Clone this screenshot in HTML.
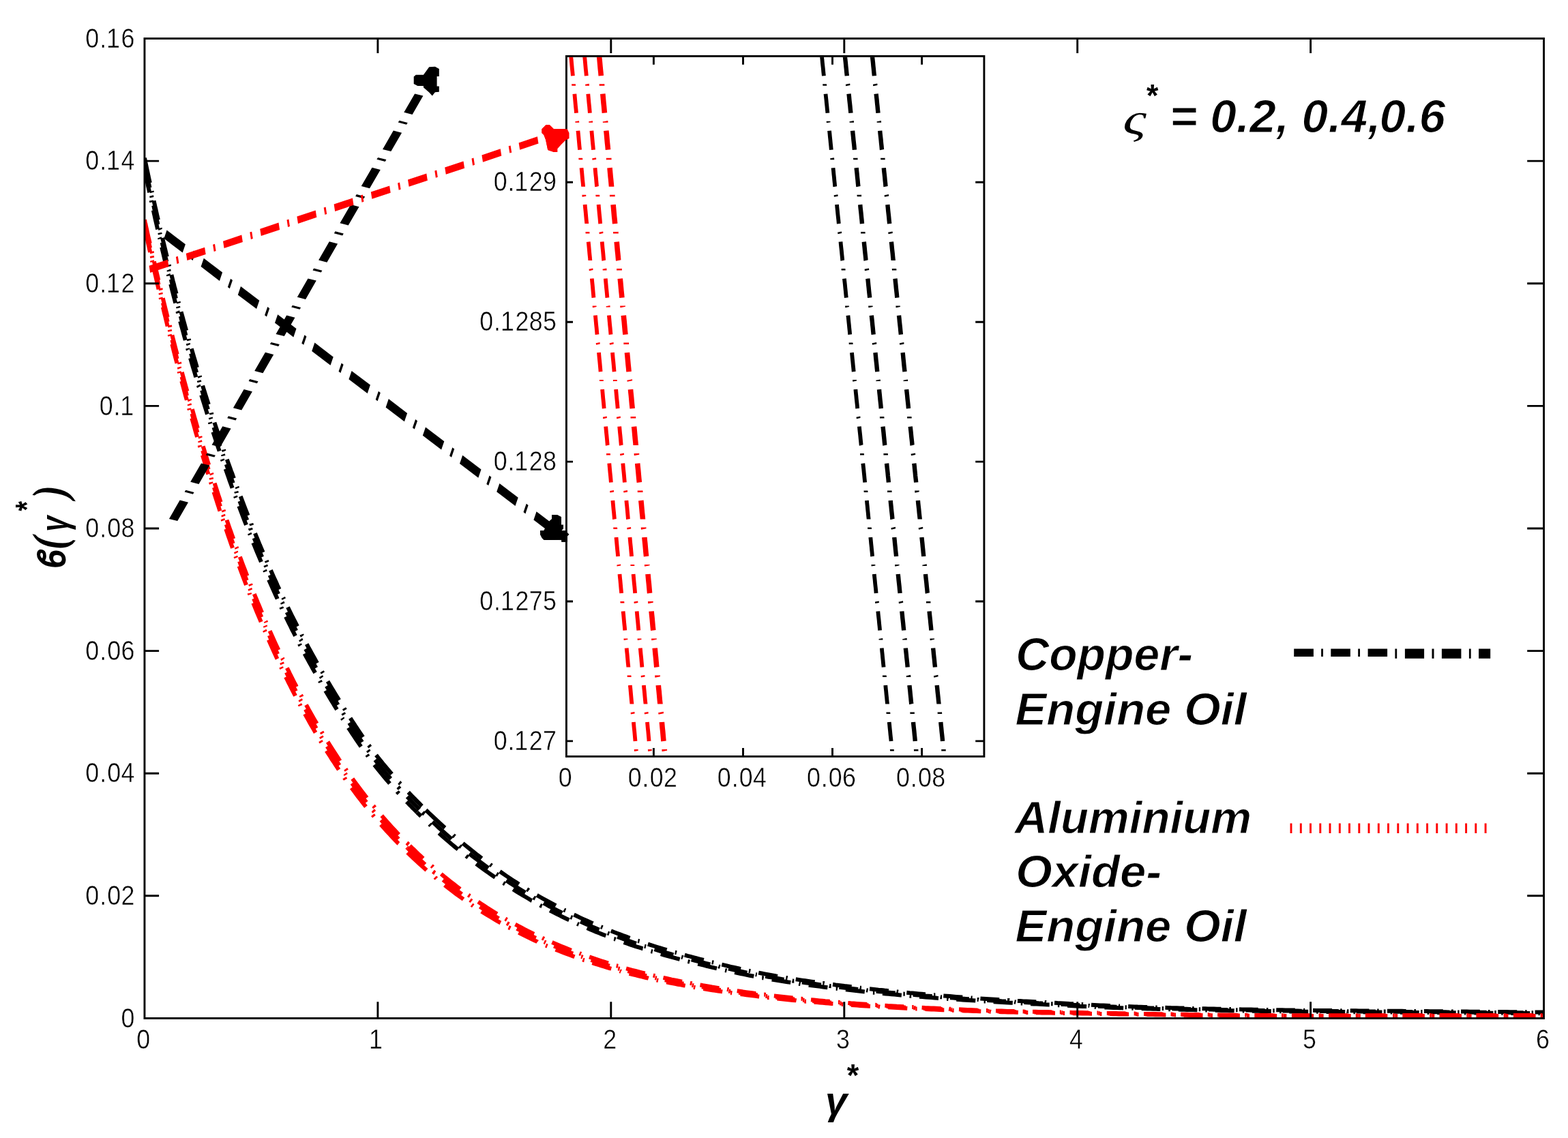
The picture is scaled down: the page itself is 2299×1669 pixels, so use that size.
<!DOCTYPE html>
<html lang="en"><head><meta charset="utf-8"><title>Temperature profile</title>
<style>html,body{margin:0;padding:0;background:#fff;}body{width:2299px;height:1669px;overflow:hidden;}svg{display:block;}</style>
</head><body>
<svg xmlns="http://www.w3.org/2000/svg" width="2299" height="1669" viewBox="0 0 2299 1669">
<rect x="0" y="0" width="2299" height="1669" fill="#fff"/>
<defs><clipPath id="cm"><rect x="211.95" y="56.5" width="2051.6000000000004" height="1436.95"/></clipPath><clipPath id="ci"><rect x="830.4" y="83.85000000000001" width="612.5000000000001" height="1024.1499999999999"/></clipPath></defs>
<path fill="none" stroke="#000" stroke-width="6" clip-path="url(#cm)" d="M213.8 240.3L214.7 244.7L215.7 249.3L216.7 253.9L217.6 258.5L218.7 263.3L219.7 267.7L219.8 268.2M222.4 280.2L222.5 280.6L222.6 281.1L222.7 281.5L222.8 282L222.9 282.4M225.5 294.3L226.5 298.7L227.4 302.8L228.4 307L229.3 311.2L230.3 315.6L231.3 320L231.9 322.4M234.7 334.5L234.8 334.9L234.9 335.4L235 335.9L235.1 336.3L235.3 336.8M238.1 348.8L239.1 353.2L240.2 357.6L241.3 362.1L242.3 366.2L243.3 370.4L244.3 374.6L244.8 376.5M247.7 388.4L247.8 388.9L248 389.4L248.1 389.9L248.2 390.4L248.3 390.8M251.4 403L252.5 407.5L253.6 412L254.8 416.3L255.8 420.5L256.9 424.6L258 428.8L258.5 430.7M261.6 442.5L261.7 442.9L261.8 443.4L262 443.9L262.1 444.4L262.2 444.8M265.5 457.2L266.7 461.6L267.9 465.9L269.1 470.2L270.3 474.6L271.5 479L272.7 483.3L273.1 484.8M276.6 497L276.7 497.5L276.9 498L277 498.5L277.2 499L277.3 499.4M280.7 511.3L282 515.7L283.3 520.1L284.6 524.6L286 529.1L287.3 533.6L288.6 538L288.9 539M292.7 551.3L292.8 551.7L292.9 552.2L293.1 552.6L293.2 553.1L293.4 553.6M297.1 565.6L298.4 569.8L299.7 574L301 578.2L302.4 582.4L303.7 586.6L305.1 590.9L305.8 593.2M309.8 605.4L309.9 605.9L310.1 606.4L310.2 606.8L310.4 607.3L310.5 607.8M314.4 619.6L315.8 623.9L317.2 628.1L318.7 632.4L320.1 636.7L321.5 640.9L323 645.2L323.8 647.6M327.9 659.4L328 659.9L328.2 660.4L328.4 660.9L328.5 661.3L328.7 661.8M332.8 673.7L334.3 677.9L335.9 682.2L337.4 686.4L338.9 690.7L340.5 694.9L342 699.2L342.9 701.5M347.4 713.8L347.6 714.3L347.7 714.7L347.9 715.2L348.1 715.7L348.3 716.2M352.7 727.9L354.5 732.6L356.3 737.3L358.1 742L359.9 746.7L361.7 751.4L363.5 756M368.2 767.7L368.3 768.1L368.5 768.6L368.7 769.1L368.9 769.5L369.1 770L369.3 770.5M374 782.1L375.7 786.3L377.4 790.4L379.2 794.8L381 799.3L382.9 803.7L384.8 808.2L385.6 810.2M390.7 822.1L390.9 822.6L391.1 823.1L391.4 823.6L391.6 824.1L391.8 824.6M396.9 836.3L398.9 840.7L400.8 845.1L402.8 849.5L404.8 853.8L406.7 858.2L408.7 862.5L409.6 864.4M415.2 876.4L415.4 876.8L415.6 877.3L415.9 877.8L416.1 878.3L416.3 878.7M422 890.5L424.3 895.2L426.5 899.8L428.8 904.5L431.2 909.1L433.5 913.7L436 918.6M442.2 930.5L442.4 931L442.7 931.5L442.9 932L443.2 932.5L443.5 932.9M449.7 944.6L452 949L454.4 953.3L456.8 957.7L459.2 962L461.6 966.3L464 970.6L465 972.5M472 984.7L472.3 985.2L472.6 985.7L472.8 986.1L473.1 986.6L473.4 987.1M480.5 999.2L483.2 1003.8L486 1008.5L488.8 1013.1L491.6 1017.7L494.4 1022.3L497.2 1026.9M504.5 1038.8L504.8 1039.3L505.1 1039.8L505.5 1040.3L505.8 1040.8L506.1 1041.3M513.6 1053.1L516.5 1057.6L519.4 1061.9L522.2 1066.3L525.1 1070.6L528 1074.9L530.9 1079.1L532.2 1081M540.7 1092.9L541.1 1093.4L541.4 1093.8L541.7 1094.3L542 1094.7L542.4 1095.2L542.7 1095.6M551.5 1107.3L555.2 1112L558.9 1116.7L562.6 1121.3L566.4 1125.8L570.2 1130.3L574.5 1135.3M585.2 1147.4L585.7 1147.8L586.1 1148.3L586.5 1148.8L587 1149.3L587.4 1149.7M598.7 1161.9L601.8 1165.1L604.9 1168.3L608 1171.4L611.1 1174.6L614.2 1177.7L617.3 1180.9L618.7 1182.2"/>
<path fill="none" stroke="#000" stroke-width="6" clip-path="url(#cm)" d="M211.9 231.7L212.3 233.2L212.6 234.7L212.9 236.2L213.2 237.7L213.5 239.2L213.8 240.7"/>
<path fill="none" stroke="#000" stroke-width="6" clip-path="url(#cm)" d="M624.5 1188L629 1192.4L633.6 1196.7L638.1 1201L642.7 1205.3L647.3 1209.5L651.9 1213.7L652.4 1214.1M664.5 1224.8L664.9 1225.2L665.4 1225.6L665.9 1226L666.3 1226.4L666.8 1226.8M678.6 1236.7L682.9 1240.3L687.1 1243.7L691.5 1247.2L695.8 1250.6L700.1 1254L704.5 1257.3L706.4 1258.8M718.6 1267.8L719.1 1268.2L719.6 1268.5L720.1 1268.9L720.6 1269.3L721 1269.6M732.9 1278L737.9 1281.5L742.8 1284.9L747.4 1288L751.9 1290.9L756.4 1293.8L760.9 1296.7M772.6 1304.1L773.1 1304.4L773.5 1304.6L774 1304.9L774.4 1305.2L774.9 1305.5L775.3 1305.8M787.2 1312.8L791.8 1315.5L796.4 1318.1L801.1 1320.7L805.7 1323.2L810.4 1325.7L815 1328.2M826.8 1334.2L827.3 1334.5L827.7 1334.7L828.2 1335L828.7 1335.2L829.2 1335.4M841.5 1341.5L845.8 1343.5L850.1 1345.6L854.4 1347.6L858.7 1349.5L863.1 1351.5L867.4 1353.4L869.4 1354.3M881.1 1359.2L881.6 1359.4L882 1359.6L882.5 1359.8L883 1360.1L883.5 1360.3M895.8 1365.2L900.2 1367L904.7 1368.7L909.2 1370.4L913.6 1372.1L918.1 1373.7L922.2 1375.2L923.5 1375.7M935.3 1379.8L935.8 1379.9L936.2 1380.1L936.7 1380.2L937.1 1380.4L937.6 1380.5M949.9 1384.6L954.5 1386.1L959.1 1387.5L963.7 1389L968.3 1390.4L972.9 1391.8L977.6 1393.2M989.7 1396.7L990.2 1396.8L990.6 1396.9L991.1 1397.1L991.6 1397.2L992 1397.3M1003.8 1400.6L1008 1401.8L1012.3 1402.9L1016.6 1404.1L1020.8 1405.2L1025.1 1406.3L1029.4 1407.4L1031.8 1408M1043.8 1411.1L1044.3 1411.2L1044.7 1411.3L1045.2 1411.4L1045.7 1411.6L1046.2 1411.7M1058.3 1414.7L1062.6 1415.7L1067 1416.7L1071.4 1417.8L1075.8 1418.8L1080.2 1419.8L1084.6 1420.8L1086.1 1421.1M1097.9 1423.7L1098.4 1423.8L1098.9 1423.9L1099.4 1424L1099.8 1424.1L1100.3 1424.2M1112.2 1426.6L1116.7 1427.5L1121.2 1428.4L1125.7 1429.2L1129.9 1430L1134 1430.7L1138.1 1431.5L1140 1431.8M1152.3 1433.9L1152.8 1434L1153.3 1434L1153.7 1434.1L1154.2 1434.2L1154.7 1434.3M1166.7 1436.2L1171.3 1436.9L1175.9 1437.6L1180.6 1438.3L1185.2 1438.9L1189.9 1439.6L1194.6 1440.3M1206.3 1441.9L1206.8 1441.9L1207.3 1442L1207.7 1442.1L1208.2 1442.1L1208.7 1442.2M1221 1443.8L1225.2 1444.4L1229.5 1444.9L1233.8 1445.4L1238.1 1446L1242.4 1446.5L1246.7 1447L1248.6 1447.2M1260.6 1448.6L1261 1448.7L1261.5 1448.7L1262 1448.8L1262.5 1448.9L1263 1448.9M1275 1450.3L1279.4 1450.7L1283.8 1451.2L1288.1 1451.7L1292.5 1452.1L1296.9 1452.6L1301.3 1453L1302.8 1453.2M1314.5 1454.3L1315 1454.4L1315.5 1454.4L1316 1454.5L1316.5 1454.5L1317 1454.6M1329.3 1455.7L1333.7 1456.2L1338.2 1456.6L1342.7 1457L1347.1 1457.4L1351.6 1457.8L1356.1 1458.2L1357.1 1458.2M1369.1 1459.3L1369.5 1459.3L1370 1459.3L1370.5 1459.4L1370.9 1459.4L1371.4 1459.4M1383.3 1460.4L1388 1460.8L1392.6 1461.1L1397.2 1461.5L1401.9 1461.9L1406.5 1462.2L1411.2 1462.6M1423.3 1463.4L1423.8 1463.5L1424.2 1463.5L1424.7 1463.5L1425.2 1463.6L1425.7 1463.6M1437.4 1464.4L1441.6 1464.7L1445.9 1465L1450.1 1465.3L1454.4 1465.6L1458.6 1465.8L1462.9 1466.1L1465.2 1466.3M1477.1 1467L1477.6 1467L1478.1 1467.1L1478.6 1467.1L1479 1467.1L1479.5 1467.1L1480 1467.2M1491.9 1467.9L1496.2 1468.1L1500.6 1468.4L1504.9 1468.6L1509.2 1468.8L1513.6 1469.1L1517.9 1469.3L1519.3 1469.4M1531.4 1470L1531.9 1470.1L1532.4 1470.1L1532.9 1470.1L1533.4 1470.1L1533.9 1470.2M1546 1470.8L1550.4 1471.1L1554.8 1471.3L1559.2 1471.5L1563.6 1471.7L1568 1472L1572.4 1472.2L1573.9 1472.3M1585.7 1473L1586.2 1473L1586.7 1473L1587.2 1473L1587.7 1473.1L1588.2 1473.1M1600 1473.7L1604.5 1474L1608.9 1474.2L1613.4 1474.4L1617.9 1474.6L1622.4 1474.8L1626.8 1475L1627.8 1475.1M1639.8 1475.5L1640.3 1475.6L1640.8 1475.6L1641.2 1475.6L1641.7 1475.6L1642.1 1475.6M1654.2 1476.1L1658.8 1476.2L1663.5 1476.4L1668.1 1476.6L1672.8 1476.7L1677.5 1476.9L1682.1 1477M1694.3 1477.4L1694.8 1477.4L1695.3 1477.4L1695.7 1477.5L1696.2 1477.5L1696.7 1477.5M1708.4 1477.8L1712.7 1477.9L1716.9 1478.1L1721.2 1478.2L1725.4 1478.3L1729.7 1478.4L1734 1478.5L1736.3 1478.6M1748.2 1478.9L1748.7 1478.9L1749.2 1478.9L1749.7 1478.9L1750.1 1478.9L1750.6 1478.9M1762.5 1479.2L1766.9 1479.3L1771.2 1479.4L1775.5 1479.5L1779.8 1479.6L1784.1 1479.7L1788.5 1479.7L1790.4 1479.8M1802.4 1480L1802.9 1480L1803.4 1480L1803.9 1480.1L1804.4 1480.1L1804.9 1480.1M1817 1480.3L1821.3 1480.4L1825.7 1480.5L1830.1 1480.5L1834.5 1480.6L1838.9 1480.7L1843.2 1480.8L1844.7 1480.8M1856.9 1481L1857.4 1481L1857.9 1481L1858.4 1481L1858.9 1481L1859.4 1481M1871.2 1481.2L1875.6 1481.3L1880 1481.3L1884.5 1481.4L1888.9 1481.4L1893.4 1481.5L1897.8 1481.5L1898.8 1481.5M1911.2 1481.7L1911.7 1481.7L1912.2 1481.7L1912.7 1481.7L1913.2 1481.7M1925.1 1481.8L1929.6 1481.9L1934.1 1481.9L1938.6 1482L1942.9 1482L1947.1 1482L1951.2 1482.1L1953.1 1482.1M1965.2 1482.2L1965.7 1482.2L1966.2 1482.2L1966.6 1482.2L1967.1 1482.2L1967.6 1482.2M1979.7 1482.3L1984 1482.3L1988.2 1482.3L1992.4 1482.4L1996.6 1482.4L2000.9 1482.4L2005.1 1482.5L2007.5 1482.5M2019.3 1482.6L2019.8 1482.6L2020.2 1482.6L2020.7 1482.6L2021.2 1482.6L2021.6 1482.6M2034 1482.7L2038.2 1482.7L2042.5 1482.7L2046.8 1482.8L2051.1 1482.8L2055.4 1482.8L2059.7 1482.9L2061.6 1482.9M2073.5 1483L2074 1483L2074.5 1483L2075 1483L2075.4 1483L2075.9 1483M2087.9 1483.1L2092.2 1483.1L2096.6 1483.2L2100.9 1483.2L2105.2 1483.2L2109.6 1483.3L2113.9 1483.3L2115.8 1483.3M2127.9 1483.4L2128.4 1483.4L2128.9 1483.4L2129.4 1483.4L2129.9 1483.4L2130.4 1483.5M2142 1483.5L2146.4 1483.6L2150.8 1483.6L2155.1 1483.7L2159.5 1483.7L2163.9 1483.7L2168.3 1483.8L2169.8 1483.8M2182 1483.9L2182.5 1483.9L2183 1483.9L2183.5 1483.9L2184 1483.9L2184.5 1483.9M2196.3 1484L2200.7 1484L2205.1 1484.1L2209.5 1484.1L2214 1484.2L2218.4 1484.2L2222.9 1484.2L2224.3 1484.2M2236.2 1484.3L2236.7 1484.3L2237.2 1484.3L2237.7 1484.3L2238.2 1484.4L2238.7 1484.4M2250.6 1484.5L2252.6 1484.5L2254.6 1484.5L2256.6 1484.5L2258.6 1484.5L2260.6 1484.5L2262.6 1484.6L2263.6 1484.6"/>
<path fill="none" stroke="#000" stroke-width="6" clip-path="url(#cm)" d="M213.5 247.2L214.4 251.7L215.4 256.1L216.4 260.9L217.3 265.4L218.4 270.3L219.4 274.8L219.5 275.2M222 286.9L222.1 287.3L222.2 287.8L222.3 288.2L222.4 288.7L222.5 289.1L222.6 289.6M225.2 301.4L226.1 305.5L227 309.6L228 313.7L228.9 318L229.9 322.3L230.9 326.7L231.5 329.2M234.3 341.4L234.4 341.9L234.5 342.3L234.6 342.8L234.7 343.3L234.8 343.7M237.6 355.7L238.7 360.1L239.7 364.6L240.7 368.8L241.7 372.9L242.7 377.1L243.7 381.3L244.3 383.7M247.2 395.6L247.4 396.1L247.5 396.6L247.6 397L247.7 397.5L247.8 398M250.8 409.8L251.9 414.2L253 418.7L254.1 422.8L255.1 426.9L256.2 431.1L257.3 435.3L257.9 437.7M261 449.5L261.1 449.9L261.2 450.4L261.3 450.9L261.5 451.4L261.6 451.8M264.8 463.8L265.9 468.1L267.1 472.5L268.3 476.8L269.5 481.2L270.7 485.6L271.9 490L272.4 491.9M275.8 503.7L275.9 504.2L276 504.7L276.2 505.2L276.3 505.6L276.5 506.1M280 518.5L281.3 522.9L282.6 527.4L283.9 531.9L285.2 536.3L286.5 540.8L287.9 545.3L288.2 546.3M291.7 557.9L291.8 558.3L291.9 558.8L292.1 559.3L292.2 559.7L292.4 560.2L292.5 560.6M296.1 572.3L297.5 576.9L299 581.6L300.4 586.3L301.9 591L303.4 595.7L304.9 600.4M308.7 612.2L308.8 612.6L309 613.1L309.1 613.6L309.3 614L309.5 614.5M313.5 626.8L314.9 631.1L316.3 635.4L317.7 639.7L319.1 643.9L320.6 648.2L322 652.5L322.7 654.4M326.7 666.3L326.9 666.8L327 667.2L327.2 667.7L327.4 668.2L327.5 668.7M331.8 681L333.3 685.3L334.9 689.5L336.4 693.8L337.9 698.1L339.4 702.3L341 706.6L341.7 708.5M346.2 720.8L346.3 721.2L346.5 721.7L346.7 722.2L346.9 722.6L347 723.1M351.4 734.9L353.2 739.6L355 744.3L356.8 749L358.6 753.7L360.4 758.4L362.3 763M366.9 774.7L367 775.2L367.2 775.6L367.4 776.1L367.6 776.6L367.8 777L368 777.5M372.6 789.1L374.3 793.3L376 797.5L377.8 801.6L379.6 806L381.5 810.5L383.3 815L384.2 817M389.2 828.9L389.4 829.4L389.7 829.9L389.9 830.4L390.1 830.9L390.3 831.4M395.6 843.6L397.6 848L399.5 852.4L401.5 856.8L403.4 861.2L405.4 865.5L407.4 869.8L408.1 871.3M413.6 883.2L413.9 883.7L414.1 884.2L414.3 884.6L414.5 885.1L414.7 885.6M420.6 897.8L422.7 902L424.7 906.2L426.8 910.4L428.8 914.5L430.9 918.7L433.2 923.2L434.2 925.2M440.6 937.6L440.9 938L441.1 938.5L441.4 939L441.6 939.5L441.9 940M448.1 951.7L450.5 956.1L452.8 960.4L455.2 964.7L457.6 969L460 973.3L462.3 977.6L463.4 979.5M470.4 991.7L470.7 992.2L470.9 992.6L471.2 993.1L471.5 993.6L471.8 994M478.8 1006.1L481.6 1010.8L484.3 1015.4L487.1 1020L489.9 1024.5L492.7 1029.1L495.5 1033.7M503 1045.7L503.3 1046.2L503.6 1046.7L503.9 1047.2L504.2 1047.7L504.5 1048.2M512.1 1060.1L514.9 1064.5L517.8 1068.8L520.6 1073.2L523.5 1077.5L526.4 1081.7L529.3 1085.9L530.9 1088.3M539.4 1100.2L539.7 1100.6L540.1 1101.1L540.5 1101.6L540.8 1102.1L541.2 1102.6M550 1114.3L553.3 1118.6L556.7 1122.8L560 1126.9L563.4 1131L566.8 1135.1L570.6 1139.6L572.8 1142M583.5 1154.1L583.9 1154.5L584.4 1155L584.8 1155.5L585.2 1155.9L585.7 1156.4L586.1 1156.9M597 1168.5L599.6 1171.2L602.2 1173.9L604.9 1176.6L607.5 1179.3L610.2 1182L612.9 1184.7L615.1 1186.9"/>
<path fill="none" stroke="#000" stroke-width="6" clip-path="url(#cm)" d="M619.6 1191.3L620 1191.7L620.5 1192.2L620.9 1192.6L621.4 1193L621.8 1193.5L622.3 1193.9M634 1205.2L638.6 1209.4L643.1 1213.7L647.7 1217.8L652.4 1222L657 1226L661.7 1230.1L662.1 1230.5M673.9 1240.4L674.3 1240.8L674.8 1241.2L675.3 1241.5L675.7 1241.9L676.2 1242.3M688.1 1251.9L692.4 1255.3L696.7 1258.6L701.1 1261.9L705.4 1265.2L709.8 1268.5L714.2 1271.7L716.1 1273.1M727.9 1281.5L728.4 1281.8L728.9 1282.2L729.4 1282.5L729.9 1282.9L730.4 1283.2M742.3 1291.3L747 1294.4L751.4 1297.3L755.9 1300.1L760.4 1303L764.9 1305.8L769.4 1308.6L770.3 1309.1M782.2 1316.1L782.6 1316.4L783.1 1316.7L783.6 1316.9L784 1317.2L784.5 1317.5L784.9 1317.7M796.9 1324.5L801.1 1326.7L805.2 1329L809.4 1331.2L813.6 1333.4L817.9 1335.6L822.1 1337.7L824.4 1338.9M836.7 1344.9L837.2 1345.1L837.7 1345.3L838.2 1345.5L838.6 1345.8L839.1 1346M851.1 1351.5L855.4 1353.5L859.7 1355.4L864.1 1357.3L868.4 1359.2L872.8 1361L877.2 1362.9L878.6 1363.5M890.9 1368.4L891.4 1368.6L891.9 1368.8L892.3 1369L892.8 1369.2L893.3 1369.4M905.2 1373.9L909.7 1375.5L914.1 1377.2L918.6 1378.7L922.6 1380.2L926.7 1381.6L930.8 1383L933 1383.7M944.9 1387.6L945.3 1387.7L945.8 1387.9L946.2 1388L946.7 1388.2L947.1 1388.3M959.5 1392.2L964.1 1393.6L968.8 1395L973.4 1396.3L978 1397.7L982.7 1399L987.4 1400.3M999.1 1403.5L999.5 1403.6L1000 1403.8L1000.5 1403.9L1001 1404L1001.4 1404.2M1013.7 1407.4L1018 1408.5L1022.3 1409.6L1026.5 1410.7L1030.8 1411.7L1035.1 1412.8L1039.5 1413.9L1041.4 1414.3M1053.4 1417.2L1053.9 1417.4L1054.4 1417.5L1054.9 1417.6L1055.4 1417.7L1055.8 1417.8M1068 1420.6L1072.4 1421.6L1076.8 1422.6L1081.2 1423.6L1085.6 1424.5L1090 1425.5L1094.4 1426.4L1095.4 1426.6M1107.8 1429.1L1108.3 1429.2L1108.8 1429.3L1109.3 1429.4L1109.8 1429.5M1122.2 1431.8L1126.7 1432.7L1130.8 1433.4L1134.9 1434.1L1139.1 1434.8L1143.2 1435.5L1147.3 1436.2L1149.6 1436.5M1161.6 1438.4L1162 1438.5L1162.5 1438.5L1163 1438.6L1163.4 1438.7L1163.9 1438.8L1164.3 1438.8M1175.9 1440.5L1180.6 1441.2L1185.2 1441.9L1189.9 1442.5L1194.6 1443.1L1199.3 1443.8L1204 1444.4M1215.8 1445.9L1216.2 1446L1216.7 1446L1217.2 1446.1L1217.6 1446.1L1218.1 1446.2L1218.6 1446.2M1230.4 1447.7L1234.7 1448.2L1239 1448.7L1243.3 1449.2L1247.6 1449.7L1251.9 1450.2L1256.2 1450.7L1258.2 1450.9M1270.2 1452.2L1270.7 1452.3L1271.2 1452.3L1271.7 1452.4L1272.1 1452.4L1272.6 1452.5M1284.7 1453.8L1289.1 1454.2L1293.5 1454.6L1297.9 1455.1L1302.3 1455.5L1306.7 1455.9L1311.1 1456.3L1312.6 1456.5M1324.4 1457.6L1324.8 1457.6L1325.3 1457.7L1325.8 1457.7L1326.3 1457.8L1326.8 1457.8M1338.7 1458.8L1343.1 1459.2L1347.6 1459.6L1352.1 1460L1356.6 1460.4L1361.1 1460.7L1365.4 1461.1L1366.8 1461.2M1378.7 1462.1L1379.2 1462.2L1379.7 1462.2L1380.1 1462.2L1380.6 1462.3L1381 1462.3M1393.1 1463.2L1397.7 1463.6L1402.3 1463.9L1407 1464.2L1411.6 1464.6L1416.3 1464.9L1421 1465.2M1432.7 1466L1433.2 1466L1433.6 1466.1L1434.1 1466.1L1434.6 1466.1L1435 1466.2M1447.3 1467L1451.5 1467.2L1455.8 1467.5L1460 1467.8L1464.3 1468L1468.6 1468.3L1472.9 1468.5L1474.8 1468.6M1487.2 1469.3L1487.6 1469.4L1488.1 1469.4L1488.6 1469.4L1489.1 1469.4L1489.5 1469.5M1501.5 1470.1L1505.9 1470.3L1510.2 1470.6L1514.5 1470.8L1518.9 1471L1523.2 1471.3L1527.6 1471.5L1529 1471.6M1541.1 1472.2L1541.6 1472.2L1542.1 1472.2L1542.6 1472.2L1543.1 1472.3L1543.6 1472.3M1555.8 1472.9L1560.2 1473.1L1564.6 1473.3L1569 1473.6L1573.4 1473.8L1577.8 1474L1582.2 1474.2L1583.2 1474.3M1595.6 1475L1596.1 1475L1596.5 1475L1597 1475L1597.5 1475.1M1609.9 1475.7L1614.4 1475.9L1618.9 1476.1L1623.3 1476.3L1627.8 1476.4L1632.3 1476.6L1636.6 1476.8L1637.5 1476.8M1649.6 1477.2L1650 1477.2L1650.5 1477.3L1650.9 1477.3L1651.4 1477.3L1651.9 1477.3M1663.9 1477.7L1668.6 1477.9L1673.3 1478L1677.9 1478.2L1682.6 1478.3L1687.3 1478.4L1692 1478.6M1703.7 1478.9L1704.2 1478.9L1704.7 1478.9L1705.1 1478.9L1705.6 1479L1706.1 1479M1718.3 1479.3L1722.6 1479.4L1726.9 1479.5L1731.1 1479.6L1735.4 1479.7L1739.7 1479.8L1743.9 1479.9L1745.9 1480M1757.8 1480.2L1758.2 1480.2L1758.7 1480.3L1759.2 1480.3L1759.7 1480.3L1760.2 1480.3M1772.1 1480.5L1776.4 1480.6L1780.8 1480.7L1785.1 1480.8L1789.4 1480.9L1793.8 1481L1798.1 1481L1800 1481.1M1812.1 1481.3L1812.6 1481.3L1813.1 1481.3L1813.6 1481.3L1814.1 1481.3L1814.5 1481.3M1826.7 1481.6L1831.1 1481.6L1835.4 1481.7L1839.8 1481.8L1844.2 1481.8L1848.6 1481.9L1853 1482L1854.5 1482M1866.3 1482.2L1866.7 1482.2L1867.2 1482.2L1867.7 1482.2L1868.2 1482.2L1868.7 1482.2M1880.5 1482.4L1885 1482.4L1889.4 1482.5L1893.9 1482.5L1898.3 1482.6L1902.8 1482.6L1907.2 1482.7L1908.7 1482.7M1920.6 1482.8L1921.1 1482.8L1921.6 1482.8L1922.1 1482.8L1922.6 1482.8L1923.1 1482.8M1935.1 1482.9L1939.6 1483L1943.8 1483L1948 1483L1952.2 1483.1L1956.4 1483.1L1960.6 1483.1L1962.9 1483.2M1974.6 1483.2L1975.1 1483.3L1975.5 1483.3L1976 1483.3L1976.5 1483.3L1976.9 1483.3L1977.4 1483.3M1989.1 1483.4L1993.3 1483.4L1997.6 1483.4L2001.8 1483.4L2006.1 1483.5L2010.3 1483.5L2014.6 1483.5L2016.9 1483.5M2028.8 1483.6L2029.2 1483.6L2029.7 1483.6L2030.2 1483.6L2030.6 1483.6L2031.1 1483.6L2031.6 1483.6M2043.5 1483.7L2047.7 1483.8L2052 1483.8L2056.3 1483.8L2060.6 1483.9L2064.9 1483.9L2069.2 1483.9L2071.1 1483.9M2083.1 1484L2083.6 1484L2084.1 1484.1L2084.5 1484.1L2085 1484.1L2085.5 1484.1M2097.5 1484.2L2101.9 1484.2L2106.2 1484.2L2110.5 1484.3L2114.9 1484.3L2119.2 1484.3L2123.6 1484.4L2125.5 1484.4M2137.2 1484.5L2137.6 1484.5L2138.1 1484.5L2138.6 1484.5L2139.1 1484.5L2139.6 1484.5M2151.7 1484.6L2156.1 1484.6L2160.5 1484.7L2164.9 1484.7L2169.3 1484.7L2173.7 1484.8L2178.1 1484.8L2179.6 1484.8M2191.3 1484.9L2191.8 1484.9L2192.3 1484.9L2192.8 1484.9L2193.3 1484.9L2193.8 1484.9M2206.1 1485L2210.5 1485.1L2215 1485.1L2219.4 1485.1L2223.9 1485.2L2228.3 1485.2L2232.8 1485.2L2233.7 1485.2M2245.6 1485.3L2246.1 1485.3L2246.6 1485.3L2247.1 1485.3L2247.6 1485.4L2248.1 1485.4M2260.1 1485.5L2260.6 1485.5L2261.1 1485.5L2261.6 1485.5L2262.1 1485.5L2262.6 1485.5L2263.1 1485.5L2263.6 1485.5"/>
<path fill="none" stroke="#000" stroke-width="6" clip-path="url(#cm)" d="M213.2 254.2L214.2 258.7L215.1 263L216.1 267.9L217 272.3L218.1 277.1L219.1 281.8L219.2 282.2M221.7 294L221.8 294.5L221.9 294.9L222 295.3L222.1 295.8L222.2 296.2L222.3 296.7M224.9 308.5L225.8 312.8L226.7 316.8L227.6 321L228.6 325.2L229.6 329.5L230.6 333.9L231.1 336.4M233.8 348.3L234 348.8L234.1 349.2L234.2 349.7L234.3 350.2L234.4 350.6M237.2 362.6L238.2 367L239.3 371.5L240.3 375.9L241.3 380L242.3 384.2L243.3 388.4L243.7 390.3M246.6 402.2L246.8 402.7L246.9 403.2L247 403.7L247.1 404.2L247.2 404.7M250.3 416.9L251.4 421.4L252.4 425.5L253.5 429.7L254.5 433.8L255.6 438L256.7 442.2L257.3 444.6M260.3 456.4L260.5 456.9L260.6 457.4L260.7 457.8L260.8 458.3L261 458.8L261.1 459.3M264.2 471.3L265.4 475.6L266.6 480L267.8 484.3L269 488.7L270.2 493.1L271.4 497.5L271.8 499M275.1 510.8L275.2 511.3L275.3 511.8L275.5 512.3L275.6 512.8L275.8 513.2M279.1 525.1L280.4 529.6L281.7 534.1L283 538.6L284.3 543L285.6 547.2L286.8 551.4L287.3 553.3M290.8 564.9L291 565.3L291.1 565.8L291.2 566.2L291.4 566.7L291.5 567.2L291.7 567.6M295.2 579.3L296.7 584L298.1 588.7L299.6 593.3L301 598L302.5 602.7L304 607.5M307.8 619.3L307.9 619.7L308.1 620.2L308.2 620.7L308.4 621.2L308.5 621.6M312.4 633.5L313.8 637.8L315.2 642.1L316.6 646.3L318 650.6L319.4 654.9L320.9 659.2L321.7 661.6M325.7 673.5L325.9 674L326.1 674.4L326.2 674.9L326.4 675.4L326.6 675.9M330.7 687.8L332.2 692L333.7 696.3L335.2 700.6L336.7 704.9L338.2 709.1L339.8 713.4L340.6 715.8M344.9 727.6L345.1 728.1L345.3 728.5L345.5 729L345.6 729.5L345.8 730M350.4 742.2L352 746.5L353.6 750.7L355.2 754.9L356.8 759.1L358.4 763.4L360.1 767.6L361 769.9M365.7 782.1L365.9 782.5L366.1 783L366.3 783.5L366.5 783.9L366.7 784.4M371.3 796L373 800.2L374.7 804.4L376.4 808.5L378.1 812.7L380 817.2L381.9 821.7L382.9 824.2M388 836.1L388.2 836.5L388.4 837L388.6 837.5L388.8 838L389 838.5M394.1 850.3L396.1 854.7L398 859.1L400 863.5L401.9 867.8L403.9 872.2L405.9 876.5L406.7 878.4M412.3 890.4L412.5 890.9L412.7 891.3L413 891.8L413.2 892.3L413.4 892.8M419 904.5L421.3 909.2L423.6 913.9L425.9 918.5L428.1 923.1L430.5 927.7L433 932.6M439.1 944.5L439.3 945L439.6 945.5L439.8 946L440.1 946.4L440.4 946.9M446.6 958.6L448.9 963L451.3 967.3L453.6 971.6L456 975.9L458.4 980.2L460.8 984.4L462.1 986.8M468.8 998.5L469.1 999L469.3 999.5L469.6 999.9L469.9 1000.4L470.1 1000.9M477.2 1012.9L479.9 1017.5L482.7 1022.1L485.4 1026.7L488.2 1031.3L491 1035.8L494 1040.6M501.7 1053.1L502 1053.6L502.3 1054.1L502.6 1054.6L503 1055.1M510.8 1067.3L513.6 1071.7L516.5 1076L519.4 1080.3L522.2 1084.6L525.1 1088.9L528 1093.1L529.3 1094.9M537.9 1107L538.3 1107.5L538.7 1108L539 1108.5L539.4 1109L539.7 1109.5M548.9 1121.6L552.2 1125.9L555.6 1130.1L558.9 1134.2L562.3 1138.3L566 1142.7L569.8 1147.1L571.5 1149.1M582.2 1161L582.6 1161.5L583.1 1162L583.5 1162.4L583.9 1162.9L584.4 1163.4L584.8 1163.8M596.1 1175.8L598.3 1178L600.5 1180.3L602.7 1182.5L604.9 1184.8L607.1 1187L609.3 1189.2L611.5 1191.4"/>
<path fill="none" stroke="#000" stroke-width="6" clip-path="url(#cm)" d="M611.5 1191.4L612.4 1192.3L613.3 1193.2L614.2 1194L615.1 1194.9L616 1195.8L616.9 1196.7L617.3 1197.1M629.5 1208.8L629.9 1209.2L630.4 1209.6L630.8 1210L631.3 1210.5L631.7 1210.9M643.6 1221.8L648.2 1225.9L652.8 1230L657.5 1234L662.1 1238L666.8 1241.9L671.5 1245.8M683.3 1255.3L683.8 1255.7L684.3 1256.1L684.8 1256.5L685.2 1256.9L685.7 1257.2L686.2 1257.6M698.2 1266.8L702.5 1270.1L706.9 1273.3L711.3 1276.5L715.7 1279.6L720.1 1282.7L724.5 1285.8L726 1286.8M737.9 1294.9L738.4 1295.2L738.9 1295.6L739.4 1295.9L739.9 1296.2L740.4 1296.5M752.3 1304.3L756.8 1307.1L761.3 1309.9L765.8 1312.6L770.3 1315.3L774.9 1318L779.4 1320.7L779.9 1320.9M791.8 1327.6L792.3 1327.9L792.7 1328.1L793.2 1328.4L793.7 1328.6L794.1 1328.9L794.6 1329.1M806.2 1335.3L810.8 1337.7L815.5 1340.1L820.2 1342.4L824.9 1344.7L829.6 1347L834.4 1349.2M846.3 1354.7L846.7 1354.9L847.2 1355.2L847.7 1355.4L848.2 1355.6L848.7 1355.8M860.7 1361.1L865 1362.9L869.4 1364.8L873.8 1366.6L878.1 1368.3L882.5 1370.1L886.9 1371.8L888.4 1372.4M900.2 1376.9L900.7 1377L901.2 1377.2L901.7 1377.4L902.2 1377.6L902.7 1377.8M914.6 1382.1L919.5 1383.7L924 1385.3L928.5 1386.8L933 1388.3L937.6 1389.7L942.1 1391.2L942.6 1391.3M954.5 1395L954.9 1395.1L955.4 1395.3L955.9 1395.4L956.3 1395.6L956.8 1395.7M968.8 1399.2L973.4 1400.5L978 1401.8L982.7 1403.1L987.4 1404.4L992 1405.7L996.7 1406.9M1008.5 1410L1009 1410.1L1009.4 1410.2L1009.9 1410.3L1010.4 1410.5L1010.9 1410.6L1011.3 1410.7M1023.2 1413.7L1027.5 1414.7L1031.8 1415.7L1036.1 1416.8L1040.4 1417.8L1044.7 1418.8L1049.1 1419.8L1051 1420.3M1063.1 1423L1063.6 1423.1L1064.1 1423.3L1064.6 1423.4L1065.1 1423.5L1065.5 1423.6M1077.2 1426.1L1081.6 1427.1L1086.1 1428L1090.5 1428.9L1094.9 1429.8L1099.4 1430.7L1103.8 1431.5L1105.3 1431.8M1117.2 1434.1L1117.7 1434.1L1118.2 1434.2L1118.7 1434.3L1119.2 1434.4L1119.7 1434.5M1131.7 1436.6L1136.3 1437.4L1140.9 1438.1L1145.5 1438.8L1150.1 1439.5L1154.7 1440.3L1159.3 1440.9M1171.3 1442.7L1171.7 1442.8L1172.2 1442.8L1172.7 1442.9L1173.1 1442.9L1173.6 1443M1185.7 1444.7L1189.9 1445.2L1194.1 1445.8L1198.3 1446.3L1202.6 1446.9L1206.8 1447.4L1211 1447.9L1213.4 1448.2M1225.7 1449.7L1226.2 1449.7L1226.6 1449.8L1227.1 1449.9L1227.6 1449.9L1228.1 1450M1240 1451.3L1244.3 1451.8L1248.6 1452.3L1252.9 1452.8L1257.2 1453.2L1261.5 1453.7L1265.9 1454.2L1267.8 1454.4M1279.9 1455.6L1280.4 1455.6L1280.8 1455.7L1281.3 1455.7L1281.8 1455.8L1282.3 1455.8M1294 1457L1298.4 1457.4L1302.8 1457.8L1307.2 1458.2L1311.6 1458.6L1316 1459L1320.4 1459.4L1321.9 1459.5M1333.7 1460.5L1334.2 1460.6L1334.7 1460.6L1335.2 1460.7L1335.7 1460.7L1336.2 1460.7M1348.1 1461.7L1352.6 1462.1L1357.1 1462.4L1361.6 1462.8L1365.9 1463.1L1370 1463.4L1374.1 1463.8L1376 1463.9M1388 1464.8L1388.4 1464.8L1388.9 1464.8L1389.4 1464.9L1389.8 1464.9L1390.3 1464.9L1390.7 1465M1402.3 1465.8L1407 1466.1L1411.6 1466.4L1416.3 1466.7L1421 1467L1425.7 1467.3L1430.3 1467.6M1442.6 1468.4L1443 1468.4L1443.5 1468.5L1444 1468.5L1444.4 1468.5L1444.9 1468.5M1456.7 1469.3L1461 1469.5L1465.2 1469.8L1469.5 1470L1473.8 1470.2L1478.1 1470.5L1482.4 1470.7L1484.8 1470.8M1496.7 1471.5L1497.2 1471.5L1497.7 1471.5L1498.2 1471.5L1498.6 1471.6L1499.1 1471.6M1511.1 1472.2L1515.5 1472.4L1519.8 1472.6L1524.2 1472.8L1528.5 1473L1532.9 1473.3L1537.3 1473.5L1538.7 1473.5M1550.9 1474.1L1551.4 1474.1L1551.9 1474.2L1552.3 1474.2L1552.8 1474.2L1553.3 1474.2M1565.1 1474.8L1569.5 1475L1573.9 1475.2L1578.3 1475.4L1582.7 1475.7L1587.2 1475.9L1591.6 1476.1L1593.1 1476.2M1605 1476.7L1605.5 1476.8L1606 1476.8L1606.4 1476.8L1606.9 1476.8L1607.4 1476.9M1619.4 1477.4L1623.8 1477.5L1628.3 1477.7L1632.8 1477.9L1637.1 1478L1641.2 1478.2L1645.4 1478.3L1647.2 1478.4M1659.3 1478.8L1659.8 1478.8L1660.2 1478.8L1660.7 1478.8L1661.2 1478.8L1661.6 1478.8M1673.7 1479.2L1677.9 1479.3L1682.1 1479.4L1686.4 1479.6L1690.6 1479.7L1694.8 1479.8L1699 1479.9L1701.4 1480M1713.2 1480.3L1713.6 1480.3L1714.1 1480.3L1714.6 1480.3L1715 1480.3L1715.5 1480.3L1716 1480.3M1727.8 1480.6L1732.1 1480.7L1736.3 1480.8L1740.6 1480.9L1744.9 1481L1749.2 1481.1L1753.5 1481.2L1755.4 1481.2M1767.3 1481.5L1767.8 1481.5L1768.3 1481.5L1768.8 1481.5L1769.2 1481.5L1769.7 1481.5M1781.7 1481.8L1786.1 1481.8L1790.4 1481.9L1794.7 1482L1799.1 1482.1L1803.4 1482.2L1807.8 1482.2L1809.7 1482.3M1821.8 1482.5L1822.3 1482.5L1822.8 1482.5L1823.3 1482.5L1823.8 1482.5L1824.2 1482.5M1835.9 1482.7L1840.3 1482.8L1844.7 1482.8L1849.1 1482.9L1853.5 1482.9L1857.9 1483L1862.3 1483.1L1863.8 1483.1M1876.1 1483.3L1876.6 1483.3L1877.1 1483.3L1877.6 1483.3L1878.1 1483.3L1878.6 1483.3M1890.4 1483.4L1894.8 1483.5L1899.3 1483.5L1903.8 1483.6L1908.2 1483.6L1912.7 1483.7L1917.2 1483.7L1918.2 1483.7M1930.1 1483.8L1930.6 1483.8L1931.1 1483.8L1931.6 1483.8L1932.1 1483.8L1932.6 1483.8M1944.7 1483.9L1948.9 1484L1953.1 1484L1957.3 1484L1961.5 1484.1L1965.7 1484.1L1969.9 1484.1L1972.2 1484.1M1984.4 1484.2L1984.9 1484.2L1985.4 1484.2L1985.8 1484.2L1986.3 1484.2L1986.8 1484.2M1998.5 1484.3L2002.8 1484.4L2007 1484.4L2011.3 1484.4L2015.5 1484.4L2019.8 1484.5L2024 1484.5L2026.4 1484.5M2038.7 1484.6L2039.2 1484.6L2039.7 1484.6L2040.1 1484.6L2040.6 1484.6L2041.1 1484.6M2053 1484.7L2057.3 1484.7L2061.6 1484.8L2065.9 1484.8L2070.2 1484.8L2074.5 1484.9L2078.8 1484.9L2080.7 1484.9M2092.7 1485L2093.2 1485L2093.7 1485L2094.2 1485L2094.6 1485L2095.1 1485M2107.2 1485.1L2111.5 1485.2L2115.8 1485.2L2120.2 1485.2L2124.6 1485.2L2128.9 1485.3L2133.3 1485.3L2134.7 1485.3M2146.9 1485.4L2147.4 1485.4L2147.8 1485.4L2148.3 1485.4L2148.8 1485.4L2149.3 1485.4M2161.5 1485.5L2165.9 1485.6L2170.3 1485.6L2174.7 1485.6L2179.1 1485.7L2183.5 1485.7L2187.9 1485.7L2189.4 1485.7M2201.2 1485.8L2201.7 1485.8L2202.2 1485.8L2202.6 1485.8L2203.1 1485.8L2203.6 1485.8M2215.5 1485.9L2219.9 1486L2224.3 1486L2228.8 1486L2233.3 1486.1L2237.7 1486.1L2242.2 1486.1L2243.2 1486.1M2255.6 1486.2L2256.1 1486.2L2256.6 1486.2L2257.1 1486.3L2257.6 1486.3"/>
<path fill="none" stroke="#f00" stroke-width="6" clip-path="url(#cm)" d="M213.4 328.9L214.4 333.3L215.4 337.7L216.4 342.4L217.4 346.8L218.5 351.4L219.6 356.1L219.8 357M222.5 369.1L222.7 369.6L222.8 370.1L222.9 370.6L223 371L223.1 371.4M225.9 383.4L226.9 387.7L227.9 392.1L228.9 396.3L229.9 400.4L230.9 404.7L231.9 409L232.4 410.9M235.3 422.8L235.4 423.3L235.5 423.8L235.6 424.2L235.7 424.7L235.8 425.1L235.9 425.6M238.8 437.3L239.8 441.6L240.9 446L242 450.4L243.1 454.9L244.2 459.2L245.2 463.4L245.7 465.2M248.7 477L248.8 477.5L248.9 478L249 478.4L249.2 478.9L249.3 479.4L249.4 479.9M252.4 491.5L253.5 495.9L254.7 500.4L255.8 504.8L256.9 509L258 513.2L259.1 517.3L259.7 519.7M262.8 531.5L263 532L263.1 532.4L263.2 532.9L263.4 533.4L263.5 533.9M266.7 545.9L267.9 550.2L269.1 554.6L270.3 559L271.5 563.4L272.7 567.9L274 572.3L274.4 573.8M277.7 585.7L277.8 586.2L278 586.7L278.1 587.1L278.2 587.6L278.4 588M281.8 600.1L283 604.4L284.2 608.6L285.4 612.8L286.7 617.1L287.9 621.3L289.1 625.6L289.8 628M293.4 639.9L293.5 640.4L293.6 640.8L293.8 641.3L293.9 641.8L294.1 642.3M297.7 654.3L299 658.6L300.3 663L301.6 667.3L303 671.7L304.3 676L305.7 680.4L306.1 681.8M309.9 694L310.1 694.5L310.2 694.9L310.4 695.4L310.5 695.9L310.7 696.4M314.6 708.6L316 713L317.4 717.3L318.8 721.7L320.2 726.1L321.7 730.5L323.1 734.9L323.6 736.4M327.5 748L327.7 748.5L327.9 749L328 749.5L328.2 750L328.4 750.5M332.5 762.6L334 767L335.5 771.4L337 775.7L338.6 780.1L340.1 784.4L341.7 788.8L342.2 790.2M346.5 802.3L346.7 802.7L346.9 803.2L347 803.7L347.2 804.2L347.4 804.7M351.8 816.6L353.4 820.9L355 825.2L356.6 829.5L358.3 833.8L359.9 838.1L361.5 842.4L362.4 844.7M367 856.5L367.2 857L367.4 857.5L367.6 857.9L367.8 858.4L368 858.9M372.8 871.1L374.5 875.3L376.2 879.5L377.9 883.7L379.7 887.8L381.5 892.1L383.3 896.6L384.2 898.6M389.4 911L389.7 911.5L389.9 912L390.1 912.5L390.3 913M395.6 925.3L397.6 929.7L399.5 934L401.5 938.4L403.4 942.7L405.4 947L407.4 951.3L408.3 953.2M413.9 965.1L414.1 965.5L414.3 966L414.5 966.5L414.7 967L415 967.4M420.8 979.6L422.9 983.7L424.9 987.9L427.2 992.3L429.4 996.8L431.7 1001.3L434 1005.7L434.7 1007.2M441.1 1019.4L441.4 1019.9L441.6 1020.3L441.9 1020.8L442.2 1021.3L442.4 1021.8M448.9 1033.8L451.3 1038L453.6 1042.3L456 1046.5L458.4 1050.7L460.8 1054.9L463.2 1059L464.5 1061.3M471.5 1073.2L471.8 1073.7L472.1 1074.2L472.4 1074.7L472.7 1075.2L473 1075.7M480.5 1088L483.3 1092.3L486 1096.6L488.7 1100.9L491.5 1105.2L494.3 1109.4L497 1113.6L498.6 1115.9M506.7 1127.8L507 1128.2L507.3 1128.7L507.6 1129.1L508 1129.6L508.3 1130.1M516.8 1142L520 1146.4L523.2 1150.7L526.4 1155L529.6 1159.3L532.9 1163.5L536.1 1167.7L537.9 1170M547.4 1181.8L547.8 1182.2L548.2 1182.7L548.5 1183.1L548.9 1183.6L549.3 1184L549.6 1184.4M559.7 1196.3L563.4 1200.6L567.3 1204.9L571.1 1209.2L574.9 1213.4L578.8 1217.6L582.6 1221.7L584.8 1224M596.5 1236L597 1236.4L597.4 1236.9L597.8 1237.3L598.3 1237.7L598.7 1238.2L599.2 1238.6"/>
<path fill="none" stroke="#f00" stroke-width="6" clip-path="url(#cm)" d="M211.9 322.4L212.2 323.4L212.4 324.4L212.6 325.4L212.8 326.4L213.1 327.4L213.3 328.4L213.5 329.4"/>
<path fill="none" stroke="#f00" stroke-width="6" clip-path="url(#cm)" d="M600.9 1240.3L604 1243.4L607.1 1246.3L610.2 1249.3L613.3 1252.3L616.4 1255.2L619.6 1258.1L620.5 1258.9M632.6 1269.8L633.1 1270.2L633.6 1270.5L634 1270.9L634.5 1271.3L634.9 1271.7M646.8 1281.8L651.4 1285.6L656.1 1289.3L660.7 1293L665.4 1296.7L670.1 1300.3L674.8 1303.8M686.7 1312.5L687.1 1312.8L687.6 1313.2L688.1 1313.5L688.6 1313.9L689.1 1314.2M701.1 1322.5L705.4 1325.4L709.8 1328.3L714.2 1331.2L718.6 1334L723 1336.7L727.4 1339.5L728.9 1340.4M740.9 1347.4L741.4 1347.7L741.9 1348L742.3 1348.3L742.8 1348.6L743.3 1348.9M755.5 1355.7L760 1358.1L764.5 1360.5L769 1362.8L773.5 1365.2L778.1 1367.4L782.6 1369.7L783.1 1369.9M795.1 1375.6L795.5 1375.8L796 1376L796.4 1376.2L796.9 1376.4L797.4 1376.7L797.8 1376.9M809.4 1382.1L814.1 1384.1L818.8 1386.1L823.5 1388L828.2 1389.9L832.9 1391.8L837.7 1393.7M849.6 1398.2L850.1 1398.4L850.6 1398.6L851.1 1398.7L851.5 1398.9L852 1399.1M864.1 1403.4L868.4 1404.9L872.8 1406.4L877.2 1407.9L881.6 1409.3L886 1410.7L890.4 1412.1L891.9 1412.6M903.7 1416.2L904.2 1416.3L904.7 1416.5L905.2 1416.6L905.7 1416.8L906.2 1416.9M918.1 1420.4L922.6 1421.6L927.1 1422.8L931.7 1424L936.2 1425.2L940.8 1426.4L945.3 1427.5L945.8 1427.6M957.7 1430.5L958.1 1430.6L958.6 1430.7L959.1 1430.8L959.5 1431L960 1431.1L960.5 1431.2M972.5 1433.9L976.6 1434.8L980.8 1435.7L985 1436.6L989.2 1437.4L993.4 1438.3L997.7 1439.1L1000 1439.6M1011.8 1441.8L1012.3 1441.9L1012.8 1442L1013.2 1442.1L1013.7 1442.2L1014.2 1442.3L1014.7 1442.4M1026.5 1444.5L1030.8 1445.3L1035.1 1446L1039.5 1446.7L1043.8 1447.5L1048.1 1448.2L1052.5 1448.9L1054.4 1449.2M1066 1451L1066.5 1451.1L1067 1451.1L1067.5 1451.2L1068 1451.3L1068.5 1451.4M1080.7 1453.2L1085.1 1453.8L1089.5 1454.5L1093.9 1455.1L1098.4 1455.7L1102.8 1456.3L1107.3 1456.9L1108.3 1457M1120.2 1458.6L1120.7 1458.6L1121.2 1458.7L1121.7 1458.8L1122.2 1458.8L1122.7 1458.9M1134.9 1460.4L1139.5 1460.9L1144.1 1461.4L1148.7 1462L1153.3 1462.5L1157.9 1463L1162.5 1463.5M1174.5 1464.8L1175 1464.8L1175.5 1464.8L1175.9 1464.9L1176.4 1464.9L1176.9 1465M1189 1466.2L1193.2 1466.6L1197.4 1467L1201.6 1467.4L1205.9 1467.8L1210.1 1468.2L1214.3 1468.5L1216.7 1468.7M1229 1469.8L1229.5 1469.8L1230 1469.9L1230.4 1469.9L1230.9 1469.9L1231.4 1470M1243.3 1470.9L1247.6 1471.3L1251.9 1471.6L1256.2 1471.9L1260.6 1472.2L1264.9 1472.5L1269.2 1472.8L1271.2 1473M1283.3 1473.8L1283.8 1473.8L1284.2 1473.9L1284.7 1473.9L1285.2 1473.9L1285.7 1473.9M1297.4 1474.7L1301.8 1475L1306.2 1475.2L1310.6 1475.5L1315 1475.8L1319.4 1476L1323.9 1476.3L1325.3 1476.3M1337.2 1477L1337.7 1477L1338.2 1477L1338.7 1477.1L1339.2 1477.1L1339.7 1477.1M1351.6 1477.7L1356.1 1478L1360.6 1478.2L1364.9 1478.4L1369.1 1478.6L1373.2 1478.8L1377.4 1479L1379.7 1479.1M1391.2 1479.6L1391.7 1479.7L1392.1 1479.7L1392.6 1479.7L1393.1 1479.7L1393.5 1479.8L1394 1479.8M1406 1480.3L1410.2 1480.5L1414.4 1480.7L1418.6 1480.9L1422.8 1481L1427.1 1481.2L1431.3 1481.4L1433.6 1481.4M1445.9 1481.9L1446.3 1481.9L1446.8 1481.9L1447.3 1481.9L1447.7 1482L1448.2 1482M1460 1482.4L1464.3 1482.5L1468.6 1482.6L1472.9 1482.7L1477.1 1482.9L1481.4 1483L1485.7 1483.1L1487.6 1483.1M1499.6 1483.4L1500.1 1483.4L1500.6 1483.4L1501 1483.4L1501.5 1483.5L1502 1483.5L1502.5 1483.5M1514 1483.7L1518.4 1483.8L1522.7 1483.9L1527.1 1484L1531.4 1484.1L1535.8 1484.1L1540.2 1484.2L1542.1 1484.3M1553.8 1484.5L1554.3 1484.5L1554.8 1484.5L1555.3 1484.5L1555.8 1484.5L1556.2 1484.5M1568.5 1484.8L1572.9 1484.9L1577.3 1484.9L1581.7 1485L1586.2 1485.1L1590.6 1485.2L1595.1 1485.3L1596.1 1485.3M1608.4 1485.6L1608.9 1485.6L1609.4 1485.6L1609.9 1485.6L1610.4 1485.6M1622.8 1485.9L1627.3 1485.9L1631.8 1486L1636.1 1486.1L1640.3 1486.2L1644.5 1486.3L1648.6 1486.3L1650.5 1486.4M1662.6 1486.6L1663 1486.6L1663.5 1486.6L1663.9 1486.6L1664.4 1486.6L1664.9 1486.6M1677 1486.9L1681.2 1486.9L1685.4 1487L1689.6 1487.1L1693.9 1487.1L1698.1 1487.2L1702.3 1487.3L1704.7 1487.3M1716.5 1487.5L1716.9 1487.5L1717.4 1487.5L1717.9 1487.5L1718.3 1487.5L1718.8 1487.5L1719.3 1487.5M1731.1 1487.7L1735.4 1487.8L1739.7 1487.8L1743.9 1487.9L1748.2 1488L1752.5 1488L1756.8 1488.1L1758.7 1488.1M1770.7 1488.2L1771.2 1488.2L1771.6 1488.2L1772.1 1488.3L1772.6 1488.3L1773.1 1488.3M1785.1 1488.4L1789.4 1488.4L1793.8 1488.5L1798.1 1488.5L1802.4 1488.6L1806.8 1488.6L1811.2 1488.7L1813.1 1488.7M1825.2 1488.8L1825.7 1488.8L1826.2 1488.8L1826.7 1488.8L1827.2 1488.8L1827.7 1488.9M1839.3 1489L1843.7 1489L1848.1 1489.1L1852.5 1489.1L1856.9 1489.1L1861.4 1489.2L1865.8 1489.2L1867.2 1489.2M1879 1489.3L1879.5 1489.3L1880 1489.3L1880.5 1489.3L1881 1489.3L1881.5 1489.3M1893.9 1489.3L1898.3 1489.3L1902.8 1489.3L1907.2 1489.3L1911.7 1489.3L1916.2 1489.3L1920.6 1489.3L1921.6 1489.3M1933.6 1489.3L1934.1 1489.3L1934.6 1489.3L1935.1 1489.3L1935.6 1489.3L1936.1 1489.3M1948 1489.3L1952.2 1489.3L1956.4 1489.3L1960.6 1489.3L1964.8 1489.3L1969 1489.3L1973.2 1489.3L1975.5 1489.3M1987.7 1489.3L1988.2 1489.3L1988.7 1489.3L1989.1 1489.3L1989.6 1489.3L1990.1 1489.3M2001.8 1489.2L2006.1 1489.2L2010.3 1489.2L2014.6 1489.2L2018.8 1489.2L2023.1 1489.2L2027.3 1489.2L2029.7 1489.2M2042 1489.2L2042.5 1489.2L2043 1489.2L2043.5 1489.2L2043.9 1489.2L2044.4 1489.2M2056.3 1489.1L2060.6 1489.1L2064.9 1489.1L2069.2 1489.1L2073.5 1489.1L2077.8 1489.1L2082.1 1489.1L2084.1 1489.1M2096.1 1489.1L2096.6 1489.1L2097 1489.1L2097.5 1489.1L2098 1489.1L2098.5 1489.1M2110.5 1489.1L2114.9 1489.1L2119.2 1489.1L2123.6 1489.1L2127.9 1489.1L2132.3 1489.1L2136.7 1489.1L2138.1 1489.1M2150.3 1489.1L2150.8 1489.1L2151.3 1489.1L2151.7 1489.1L2152.2 1489.1L2152.7 1489.1M2164.4 1489.1L2168.8 1489.1L2173.2 1489.1L2177.6 1489.1L2182 1489.1L2186.4 1489.1L2190.8 1489.1L2192.3 1489.1M2204.6 1489.1L2205.1 1489.1L2205.6 1489.1L2206.1 1489.1L2206.6 1489.1L2207.1 1489.1M2218.9 1489.1L2223.4 1489.1L2227.8 1489.1L2232.3 1489.1L2236.7 1489.1L2241.2 1489.1L2245.6 1489.1L2246.6 1489.1M2258.6 1489.1L2259.1 1489.1L2259.6 1489.1L2260.1 1489.1L2260.6 1489.1L2261.1 1489.1"/>
<path fill="none" stroke="#f00" stroke-width="6" clip-path="url(#cm)" d="M213.7 335.5L214.7 340.1L215.7 344.5L216.7 349.3L217.7 353.7L218.8 358.5L219.9 363L220 363.5M222.7 375.3L222.8 375.8L222.9 376.3L223 376.8L223.1 377.2L223.2 377.6L223.3 378.1M226 389.7L227 394.1L228 398.2L228.9 402.3L229.9 406.5L230.9 410.7L231.9 415.1L232.5 417.5M235.4 429.6L235.5 430L235.6 430.5L235.7 430.9L235.8 431.4L235.9 431.9M238.9 444.2L240 448.6L241 453L242.1 457.5L243.2 461.7L244.2 465.8L245.2 470L245.7 471.9M248.7 483.7L248.8 484.2L248.9 484.7L249 485.2L249.2 485.7L249.3 486.2M252.4 498.4L253.5 502.8L254.6 507.2L255.7 511.3L256.8 515.5L257.9 519.7L259 523.9L259.6 526.3M262.7 538.2L262.8 538.6L263 539.1L263.1 539.6L263.2 540.1L263.4 540.6M266.6 552.6L267.8 557L269 561.4L270.2 565.9L271.4 570.3L272.6 574.8L273.8 579.3L274.1 580.3M277.4 592.3L277.6 592.8L277.7 593.3L277.8 593.7L278 594.2L278.1 594.7M281.5 606.8L282.7 611.1L283.9 615.3L285.2 619.6L286.4 623.8L287.6 628.1L288.9 632.4L289.4 634.3M292.9 646.3L293.1 646.8L293.2 647.3L293.4 647.8L293.5 648.2L293.6 648.7M297.2 660.8L298.5 665.1L299.9 669.5L301.2 673.9L302.5 678.2L303.9 682.6L305.2 687L305.7 688.4M309.5 700.6L309.6 701.1L309.8 701.6L309.9 702.1L310.1 702.6L310.2 703.1M313.9 714.8L315.3 719.2L316.8 723.6L318.2 728L319.6 732.4L321 736.8L322.5 741.2L323 742.7M327 754.9L327.2 755.4L327.4 755.9L327.5 756.4L327.7 756.9L327.9 757.4M331.8 769.1L333.3 773.5L334.9 777.8L336.4 782.2L337.9 786.6L339.4 790.9L341 795.3L341.7 797.2M345.8 808.8L346 809.3L346.2 809.8L346.3 810.3L346.5 810.8L346.7 811.2M351.1 823.2L352.7 827.6L354.3 831.9L355.9 836.2L357.5 840.5L359.2 844.7L360.8 849L361.7 851.4M366.3 863.2L366.5 863.7L366.7 864.2L366.9 864.6L367 865.1L367.2 865.6M372.1 877.8L373.8 882L375.5 886.2L377.2 890.4L378.9 894.6L380.6 898.8L382.5 903.2L383.3 905.2M388.6 917.7L388.8 918.2L389 918.6L389.2 919.1L389.4 919.6M394.8 931.9L396.7 936.3L398.7 940.7L400.6 945L402.6 949.4L404.5 953.7L406.5 958L407.2 959.4M413 971.7L413.2 972.2L413.4 972.7L413.6 973.2L413.9 973.6L414.1 974.1M419.9 986.2L422 990.4L424 994.5L426.2 998.8L428.4 1003.3L430.7 1007.8L433 1012.2L433.7 1013.7M440.1 1025.8L440.4 1026.3L440.6 1026.8L440.9 1027.3L441.1 1027.8L441.4 1028.3M447.9 1040.2L450.5 1045L453.1 1049.7L455.7 1054.4L458.4 1059L461 1063.6L463.7 1068.2M470.6 1080L470.9 1080.5L471.2 1080.9L471.5 1081.4L471.8 1081.9L472.1 1082.4M479.6 1094.6L482.4 1098.9L485.1 1103.2L487.8 1107.5L490.6 1111.8L493.3 1116L496.1 1120.1L497.7 1122.4M505.9 1134.5L506.3 1135L506.6 1135.5L507 1136L507.3 1136.5M516.1 1148.8L519.3 1153.1L522.5 1157.5L525.7 1161.7L528.9 1166L532.1 1170.2L535.4 1174.3L537.2 1176.6M546.7 1188.4L547.2 1188.9L547.6 1189.4L548 1189.9L548.4 1190.4L548.8 1190.9M558.8 1202.6L563 1207.4L567.3 1212.1L571.5 1216.8L575.8 1221.4L580 1226L584.4 1230.5M596.4 1242.7L596.9 1243.2L597.4 1243.7"/>
<path fill="none" stroke="#f00" stroke-width="6" clip-path="url(#cm)" d="M597.4 1243.7L601.4 1247.6L605.3 1251.4L609.3 1255.2L613.3 1258.9L617.3 1262.6L621.4 1266.2L623.2 1267.9M634.9 1278.1L635.4 1278.5L635.8 1278.9L636.3 1279.3L636.7 1279.7L637.2 1280.1L637.7 1280.4M649.6 1290.3L653.7 1293.6L657.9 1296.9L662.1 1300.2L666.3 1303.4L670.6 1306.6L674.8 1309.7L677.2 1311.4M689.1 1319.9L689.5 1320.2L690 1320.6L690.5 1320.9L691 1321.2L691.5 1321.6M703.5 1329.7L707.9 1332.5L712.2 1335.3L716.6 1338.1L721 1340.8L725.5 1343.5L729.9 1346.2L731.4 1347.1M743.3 1353.9L743.8 1354.2L744.3 1354.5L744.7 1354.7L745.2 1355L745.6 1355.2L746.1 1355.5M757.7 1361.8L762.2 1364.1L766.7 1366.4L771.3 1368.7L775.8 1371L780.4 1373.2L784.9 1375.4L785.9 1375.8M797.8 1381.3L798.3 1381.5L798.8 1381.7L799.2 1381.9L799.7 1382.1L800.1 1382.3M812.2 1387.5L816.5 1389.3L820.7 1391L824.9 1392.7L829.2 1394.4L833.4 1396.1L837.7 1397.7L840.1 1398.6M852 1403L852.5 1403.1L853 1403.3L853.5 1403.5L853.9 1403.6L854.4 1403.8M866.5 1408L870.8 1409.4L875.2 1410.9L879.6 1412.3L884 1413.7L888.4 1415L892.8 1416.4L893.8 1416.7M906.2 1420.3L906.7 1420.4L907.2 1420.6L907.7 1420.7L908.2 1420.9L908.7 1421M920.4 1424.2L924.9 1425.4L929.4 1426.6L933.9 1427.8L938.5 1428.9L943 1430L947.6 1431.1L948.1 1431.2M960.5 1434.1L960.9 1434.2L961.4 1434.3L961.8 1434.4L962.3 1434.5L962.8 1434.6M974.8 1437.2L979 1438.1L983.2 1439L987.4 1439.8L991.6 1440.6L995.8 1441.5L1000 1442.3L1002.4 1442.7M1014.7 1444.9L1015.1 1445L1015.6 1445.1L1016.1 1445.2L1016.6 1445.3L1017 1445.4M1028.9 1447.4L1033.2 1448.1L1037.5 1448.8L1041.9 1449.5L1046.2 1450.2L1050.5 1450.9L1054.9 1451.6L1056.8 1451.9M1068.5 1453.6L1068.9 1453.7L1069.4 1453.7L1069.9 1453.8L1070.4 1453.9L1070.9 1454M1083.1 1455.7L1087.5 1456.3L1092 1456.9L1096.4 1457.5L1100.8 1458.1L1105.3 1458.7L1109.8 1459.2L1110.7 1459.4M1122.7 1460.8L1123.2 1460.9L1123.7 1460.9L1124.2 1461L1124.7 1461.1L1125.2 1461.1M1137.2 1462.5L1141.8 1463L1146.4 1463.5L1151 1464L1155.6 1464.5L1160.2 1465L1164.8 1465.5L1165.3 1465.5M1176.9 1466.7L1177.3 1466.7L1177.8 1466.8L1178.2 1466.8L1178.7 1466.8L1179.2 1466.9L1179.6 1466.9M1191.3 1468L1195.5 1468.4L1199.7 1468.8L1204 1469.2L1208.2 1469.5L1212.4 1469.9L1216.7 1470.3L1219.1 1470.4M1231.4 1471.4L1231.9 1471.5L1232.3 1471.5L1232.8 1471.5L1233.3 1471.6L1233.8 1471.6M1245.7 1472.5L1250 1472.8L1254.3 1473.1L1258.6 1473.4L1263 1473.7L1267.3 1474L1271.7 1474.3L1273.6 1474.4M1285.2 1475.2L1285.7 1475.2L1286.2 1475.2L1286.7 1475.3L1287.2 1475.3L1287.6 1475.3M1299.8 1476.1L1304.2 1476.3L1308.6 1476.6L1313 1476.8L1317.5 1477.1L1321.9 1477.3L1326.3 1477.5L1327.8 1477.6M1339.7 1478.2L1340.2 1478.3L1340.7 1478.3L1341.2 1478.3L1341.7 1478.3L1342.2 1478.4M1354.1 1478.9L1358.6 1479.2L1363.1 1479.4L1367.2 1479.6L1371.4 1479.7L1375.5 1479.9L1379.7 1480.1L1382 1480.2M1394 1480.7L1394.4 1480.8L1394.9 1480.8L1395.4 1480.8L1395.8 1480.8L1396.3 1480.8M1408.4 1481.4L1412.6 1481.5L1416.8 1481.7L1421 1481.9L1425.2 1482L1429.4 1482.2L1433.6 1482.3L1436 1482.4M1448.2 1482.8L1448.7 1482.8L1449.2 1482.9L1449.6 1482.9L1450.1 1482.9L1450.6 1482.9M1462.4 1483.3L1466.7 1483.4L1470.9 1483.5L1475.2 1483.6L1479.5 1483.7L1483.8 1483.8L1488.1 1483.9L1490 1484M1502 1484.2L1502.5 1484.2L1503 1484.3L1503.4 1484.3L1503.9 1484.3L1504.4 1484.3L1504.9 1484.3M1516.4 1484.5L1520.8 1484.6L1525.1 1484.7L1529.5 1484.8L1533.9 1484.8L1538.2 1484.9L1542.6 1485L1544.5 1485M1556.2 1485.2L1556.7 1485.3L1557.2 1485.3L1557.7 1485.3L1558.2 1485.3L1558.7 1485.3M1570.9 1485.5L1575.4 1485.6L1579.8 1485.7L1584.2 1485.8L1588.6 1485.8L1593.1 1485.9L1597.5 1486L1598.5 1486M1610.4 1486.3L1610.9 1486.3L1611.4 1486.3L1611.9 1486.3L1612.4 1486.3L1612.9 1486.3M1624.8 1486.5L1629.3 1486.6L1633.8 1486.7L1638 1486.8L1642.1 1486.8L1646.3 1486.9L1650.5 1487L1652.8 1487M1664.9 1487.2L1665.3 1487.2L1665.8 1487.2L1666.3 1487.2L1666.7 1487.3L1667.2 1487.3M1679.3 1487.5L1683.5 1487.5L1687.8 1487.6L1692 1487.7L1696.2 1487.7L1700.4 1487.8L1704.7 1487.9L1707 1487.9M1718.8 1488.1L1719.3 1488.1L1719.8 1488.1L1720.2 1488.1L1720.7 1488.1L1721.2 1488.1L1721.7 1488.1M1733.5 1488.3L1737.8 1488.3L1742 1488.4L1746.3 1488.4L1750.6 1488.5L1754.9 1488.5L1759.2 1488.6L1761.1 1488.6M1773.1 1488.7L1773.6 1488.7L1774 1488.7L1774.5 1488.8L1775 1488.8L1775.5 1488.8M1787.5 1488.9L1791.8 1488.9L1796.2 1489L1800.5 1489L1804.9 1489.1L1809.2 1489.1L1813.6 1489.1L1815.5 1489.2M1827.7 1489.3L1828.1 1489.3L1828.6 1489.3L1829.1 1489.3L1829.6 1489.3L1830.1 1489.3M1841.8 1489.4L1846.2 1489.5L1850.6 1489.5L1855 1489.5L1859.4 1489.6L1863.8 1489.6L1868.2 1489.6L1869.7 1489.6M1881.5 1489.7L1882 1489.7L1882.5 1489.7L1883 1489.7L1883.5 1489.7L1884 1489.7M1895.8 1489.7L1900.3 1489.7L1904.7 1489.8L1909.2 1489.8L1913.7 1489.8L1918.2 1489.8L1922.6 1489.7L1923.6 1489.7M1936.1 1489.7L1936.6 1489.7L1937.1 1489.7L1937.6 1489.7L1938.1 1489.7M1950.3 1489.7L1954.5 1489.7L1958.7 1489.7L1962.9 1489.7L1967.1 1489.7L1971.3 1489.7L1975.5 1489.7L1977.9 1489.7M1990.1 1489.7L1990.5 1489.7L1991 1489.7L1991.5 1489.7L1991.9 1489.7L1992.4 1489.7M2004.6 1489.7L2008.9 1489.7L2013.1 1489.7L2017.4 1489.6L2021.6 1489.6L2025.9 1489.6L2030.2 1489.6L2032.1 1489.6M2044.4 1489.6L2044.9 1489.6L2045.4 1489.6L2045.8 1489.6L2046.3 1489.6L2046.8 1489.6M2058.7 1489.6L2063 1489.6L2067.3 1489.6L2071.6 1489.6L2075.9 1489.6L2080.2 1489.6L2084.5 1489.6L2086.5 1489.6M2098.5 1489.6L2099 1489.6L2099.4 1489.6L2099.9 1489.6L2100.4 1489.6L2100.9 1489.6M2112.9 1489.6L2117.3 1489.6L2121.6 1489.6L2126 1489.6L2130.4 1489.6L2134.7 1489.6L2139.1 1489.6L2140.6 1489.6M2152.7 1489.6L2153.2 1489.6L2153.7 1489.6L2154.2 1489.6L2154.7 1489.6L2155.1 1489.6M2166.9 1489.6L2171.3 1489.6L2175.7 1489.6L2180.1 1489.6L2184.5 1489.6L2188.9 1489.6L2193.3 1489.6L2194.8 1489.6M2207.1 1489.6L2207.6 1489.6L2208.1 1489.6L2208.6 1489.6L2209 1489.6M2221.4 1489.6L2225.8 1489.6L2230.3 1489.6L2234.7 1489.6L2239.2 1489.6L2243.7 1489.6L2248.1 1489.6L2249.1 1489.6M2261.1 1489.6L2261.6 1489.6L2262.1 1489.6L2262.6 1489.6L2263.1 1489.6L2263.6 1489.6"/>
<path fill="none" stroke="#f00" stroke-width="6" clip-path="url(#cm)" d="M214 342.1L215 346.7L216 351.3L216.9 355.6L218 360.2L219 365L220.1 369.5L220.2 370M222.9 382.1L223 382.5L223.1 383L223.2 383.4L223.3 383.9L223.4 384.3M226.2 396.6L227.2 401L228.2 405.1L229.1 409.2L230.1 413.5L231.1 417.8L232.1 422.2L232.6 424.2M235.5 436.3L235.6 436.7L235.7 437.2L235.8 437.7L235.9 438.1L236 438.6M238.9 450.6L240 455L241 459.4L242.1 463.6L243.1 467.7L244.1 471.9L245.1 476.1L245.7 478.5M248.7 490.5L248.8 490.9L248.9 491.4L249 491.9L249.2 492.4L249.3 492.9M252.3 504.7L253.5 509.5L254.6 514.1L255.8 518.7L257 523.4L258.2 528.1L259.5 532.8M262.6 544.8L262.7 545.3L262.8 545.8L263 546.3L263.1 546.7L263.2 547.2M266.3 558.9L267.5 563.3L268.7 567.7L269.9 572.2L271.1 576.7L272.3 581.2L273.5 585.4L273.9 586.8M277.2 598.9L277.3 599.4L277.4 599.8L277.6 600.3L277.7 600.8L277.8 601.2M281.3 613.5L282.5 617.7L283.7 622L284.9 626.3L286.1 630.6L287.3 634.9L288.6 639.2L289.1 641.1M292.7 653.1L292.8 653.6L292.9 654.1L293.1 654.6L293.2 655.1L293.4 655.6M296.9 667.7L298.3 672.1L299.6 676.4L300.9 680.8L302.2 685.2L303.6 689.6L304.9 694L305.4 695.5M309 707.2L309.1 707.7L309.3 708.2L309.5 708.7L309.6 709.2L309.8 709.7M313.5 721.5L314.9 725.9L316.3 730.3L317.7 734.7L319.1 739.1L320.6 743.6L322 748L322.5 749.4M326.4 761.2L326.6 761.7L326.7 762.2L326.9 762.7L327 763.2L327.2 763.7M331.3 775.9L332.8 780.3L334.3 784.7L335.9 789.1L337.4 793.5L338.9 797.9L340.5 802.2L341 803.7M345.3 815.8L345.5 816.3L345.6 816.7L345.8 817.2L346 817.7L346.2 818.2M350.6 830.2L352.2 834.6L353.8 838.9L355.4 843.2L357 847.5L358.6 851.8L360.3 856.1L361 858M365.6 869.8L365.7 870.3L365.9 870.8L366.1 871.2L366.3 871.7L366.5 872.2M371.3 884.4L373 888.6L374.7 892.8L376.4 897L378.1 901.2L379.9 905.4L381.7 909.7L382.7 912.2M387.7 924.2L388 924.7L388.2 925.2L388.4 925.7L388.6 926.1L388.8 926.6M393.9 938.4L395.8 942.8L397.8 947.2L399.7 951.6L401.7 955.9L403.7 960.2L405.6 964.5L406.5 966.4M412.1 978.3L412.3 978.8L412.5 979.2L412.7 979.7L413 980.2L413.2 980.6M419 992.8L421.1 996.9L423.1 1001.1L425.2 1005.2L427.4 1009.7L429.7 1014.1L432 1018.5L433 1020.5M439.3 1032.7L439.6 1033.2L439.8 1033.6L440.1 1034.1L440.4 1034.6L440.6 1035.1M447.1 1047L449.4 1051.3L451.8 1055.5L454.1 1059.7L456.5 1063.9L458.9 1068.1L461.3 1072.2L462.6 1074.5M469.8 1086.5L470.1 1087L470.3 1087.5L470.6 1088L470.9 1088.5L471.2 1089M478.7 1101.1L481.4 1105.5L484.2 1109.7L486.9 1114L489.7 1118.2L492.4 1122.4L495.2 1126.6L496.7 1128.9M504.9 1140.7L505.2 1141.2L505.6 1141.7L505.9 1142.2L506.3 1142.7L506.6 1143.2M515.4 1155.4L518.6 1159.7L521.7 1164L525 1168.3L528.2 1172.5L531.4 1176.7L534.7 1180.8L536.5 1183.1M546.3 1195.1L546.7 1195.6L547.2 1196.1L547.6 1196.6L548 1197.1L548.4 1197.6M558.4 1209.3L562.6 1214L566.8 1218.7L571.1 1223.3L575.3 1227.9L579.6 1232.4L583.9 1236.9L584.4 1237.3"/>
<path fill="none" stroke="#f00" stroke-width="6" clip-path="url(#cm)" d="M597.4 1250.4L601.8 1254.6L606.2 1258.8L610.6 1262.9L615.1 1267L619.6 1271L624.1 1275L625.4 1276.2M637.7 1286.6L638.1 1287L638.6 1287.4L639 1287.7L639.5 1288.1L639.9 1288.5M651.9 1298.1L656.1 1301.4L660.3 1304.6L664.5 1307.8L668.7 1311L672.9 1314.1L677.2 1317.1L679.5 1318.8M691.5 1327.1L691.9 1327.4L692.4 1327.7L692.9 1328L693.4 1328.4L693.8 1328.7M705.9 1336.6L710.3 1339.4L714.7 1342.1L719.1 1344.8L723.5 1347.5L727.9 1350.1L732.4 1352.7L733.9 1353.5M745.6 1360.1L746.1 1360.3L746.5 1360.5L747 1360.8L747.4 1361L747.9 1361.3L748.3 1361.5M760.4 1367.9L764.9 1370.1L769.4 1372.4L774 1374.6L778.5 1376.8L783.1 1378.9L787.7 1381L788.1 1381.3M800.1 1386.6L800.6 1386.8L801.1 1387L801.5 1387.2L802 1387.4L802.5 1387.6M814.6 1392.6L818.8 1394.3L823 1396L827.3 1397.6L831.5 1399.2L835.8 1400.8L840.1 1402.4L842.5 1403.3M854.4 1407.5L854.9 1407.7L855.4 1407.8L855.9 1408L856.3 1408.2L856.8 1408.3M868.4 1412.2L872.8 1413.6L877.2 1415L881.6 1416.3L886 1417.7L890.4 1419L894.8 1420.3L896.3 1420.7M908.7 1424.2L909.2 1424.4L909.7 1424.5L910.2 1424.6L910.6 1424.8M922.6 1427.9L927.1 1429.1L931.7 1430.2L936.2 1431.3L940.8 1432.4L945.3 1433.5L949.9 1434.5L950.8 1434.8M962.8 1437.4L963.2 1437.5L963.7 1437.6L964.1 1437.7L964.6 1437.8L965.1 1437.9M977.1 1440.4L981.3 1441.2L985.5 1442.1L989.7 1442.9L993.9 1443.7L998.1 1444.4L1002.4 1445.2L1004.7 1445.6M1017 1447.8L1017.5 1447.9L1018 1447.9L1018.4 1448L1018.9 1448.1L1019.4 1448.2M1031.3 1450.1L1035.6 1450.8L1039.9 1451.5L1044.3 1452.2L1048.6 1452.8L1052.9 1453.5L1057.3 1454.1L1059.2 1454.4M1070.9 1456.1L1071.4 1456.1L1071.9 1456.2L1072.4 1456.3L1072.8 1456.3L1073.3 1456.4M1085.6 1458.1L1090 1458.6L1094.4 1459.2L1098.9 1459.8L1103.3 1460.3L1107.8 1460.9L1112.2 1461.4L1113.2 1461.5M1125.2 1462.9L1125.7 1463L1126.2 1463.1L1126.7 1463.1L1127.2 1463.2L1127.6 1463.2M1139.5 1464.5L1144.1 1465L1148.7 1465.5L1153.3 1466L1157.9 1466.4L1162.5 1466.9L1167.1 1467.3L1167.6 1467.4M1179.6 1468.5L1180.1 1468.6L1180.6 1468.6L1181 1468.6L1181.5 1468.7L1182 1468.7M1193.6 1469.8L1197.9 1470.1L1202.1 1470.5L1206.3 1470.8L1210.6 1471.2L1214.8 1471.5L1219.1 1471.9L1221.4 1472M1233.8 1473L1234.2 1473L1234.7 1473L1235.2 1473.1L1235.7 1473.1L1236.2 1473.2M1248.1 1474L1252.4 1474.3L1256.7 1474.6L1261 1474.9L1265.4 1475.2L1269.7 1475.4L1274.1 1475.7L1276 1475.8M1287.6 1476.5L1288.1 1476.5L1288.6 1476.6L1289.1 1476.6L1289.6 1476.6L1290.1 1476.7M1302.3 1477.3L1306.7 1477.6L1311.1 1477.8L1315.5 1478.1L1319.9 1478.3L1324.4 1478.5L1328.8 1478.7L1330.3 1478.8M1342.2 1479.4L1342.7 1479.4L1343.1 1479.4L1343.6 1479.5L1344.1 1479.5L1344.6 1479.5M1356.6 1480.1L1361.1 1480.3L1365.4 1480.4L1369.5 1480.6L1373.7 1480.8L1377.8 1481L1382 1481.2L1384.3 1481.2M1396.3 1481.7L1396.8 1481.8L1397.2 1481.8L1397.7 1481.8L1398.2 1481.8L1398.6 1481.8M1410.7 1482.3L1414.9 1482.5L1419.1 1482.6L1423.3 1482.8L1427.5 1482.9L1431.7 1483.1L1436 1483.2L1438.3 1483.3M1450.6 1483.7L1451 1483.7L1451.5 1483.7L1452 1483.7L1452.5 1483.7L1452.9 1483.8M1464.8 1484.1L1469 1484.2L1473.3 1484.3L1477.6 1484.4L1481.9 1484.5L1486.2 1484.6L1490.5 1484.7L1492.9 1484.8M1504.4 1485L1504.9 1485L1505.4 1485L1505.9 1485L1506.3 1485L1506.8 1485L1507.3 1485M1518.9 1485.3L1523.2 1485.3L1527.6 1485.4L1531.9 1485.5L1536.3 1485.6L1540.7 1485.6L1545 1485.7L1547 1485.7M1558.7 1485.9L1559.2 1485.9L1559.7 1486L1560.2 1486L1560.6 1486L1561.1 1486M1573.4 1486.2L1577.8 1486.3L1582.2 1486.3L1586.7 1486.4L1591.1 1486.5L1595.6 1486.6L1600 1486.7L1601 1486.7M1612.9 1486.9L1613.4 1486.9L1613.9 1486.9L1614.4 1486.9L1614.9 1486.9L1615.4 1486.9M1627.3 1487.1L1631.8 1487.2L1636.1 1487.3L1640.3 1487.4L1644.5 1487.4L1648.6 1487.5L1652.8 1487.6L1655.1 1487.6M1667.2 1487.8L1667.7 1487.8L1668.1 1487.8L1668.6 1487.8L1669.1 1487.8L1669.5 1487.8M1681.7 1488L1685.9 1488.1L1690.1 1488.1L1694.3 1488.2L1698.6 1488.3L1702.8 1488.3L1707 1488.4L1709.4 1488.4M1721.7 1488.6L1722.1 1488.6L1722.6 1488.6L1723.1 1488.6L1723.5 1488.6L1724 1488.6M1735.9 1488.8L1740.1 1488.8L1744.4 1488.9L1748.7 1488.9L1753 1489L1757.3 1489L1761.6 1489.1L1763.5 1489.1M1775.5 1489.2L1776 1489.2L1776.4 1489.2L1776.9 1489.2L1777.4 1489.2L1777.9 1489.2M1789.9 1489.3L1794.2 1489.4L1798.6 1489.4L1802.9 1489.4L1807.3 1489.5L1811.6 1489.5L1816 1489.6L1817.9 1489.6M1830.1 1489.7L1830.6 1489.7L1831.1 1489.7L1831.5 1489.7L1832 1489.7M1844.2 1489.8L1848.6 1489.9L1853 1489.9L1857.4 1489.9L1861.8 1489.9L1866.3 1490L1870.7 1490L1872.2 1490M1884 1490.1L1884.5 1490.1L1885 1490.1L1885.5 1490.1L1885.9 1490.1L1886.4 1490.1M1898.3 1490.1L1902.8 1490.1L1907.2 1490.1L1911.7 1490.1L1916.2 1490.1L1920.6 1490.1L1925.1 1490.1L1926.1 1490.1M1938.1 1490.1L1938.6 1490.1L1939.1 1490.1L1939.6 1490.1L1940.1 1490.1L1940.6 1490.1M1952.6 1490.1L1957.3 1490.1L1962 1490.1L1966.6 1490.1L1971.3 1490.1L1976 1490.1L1980.7 1490.1M1992.4 1490.1L1992.9 1490.1L1993.3 1490.1L1993.8 1490.1L1994.3 1490.1L1994.8 1490.1M2007 1490.1L2011.3 1490L2015.5 1490L2019.8 1490L2024 1490L2028.3 1490L2032.5 1490L2034.4 1490M2046.8 1490L2047.3 1490L2047.7 1490L2048.2 1490L2048.7 1490L2049.2 1490M2061.1 1490L2065.4 1490L2069.7 1490L2074 1490L2078.3 1490L2082.6 1490L2086.9 1490L2088.9 1490M2100.9 1490L2101.4 1490L2101.9 1490L2102.3 1490L2102.8 1490L2103.3 1490M2115.4 1490L2119.7 1490L2124.1 1490L2128.4 1490L2132.8 1490L2137.2 1490L2141.5 1490L2143 1490M2155.1 1490L2155.6 1490L2156.1 1490L2156.6 1490L2157.1 1490L2157.6 1490M2169.3 1490L2173.7 1490L2178.1 1490L2182.5 1490L2186.9 1490L2191.3 1490L2195.8 1490L2197.2 1490M2209 1490L2209.5 1490L2210 1490L2210.5 1490L2211 1490L2211.5 1490M2223.9 1490L2228.3 1490L2232.8 1490L2237.2 1490L2241.7 1490L2246.1 1490L2250.6 1490L2251.6 1490"/>
<g stroke="#000" stroke-width="2.9" fill="none">
<rect x="211.95" y="56.5" width="2051.6000000000004" height="1436.95"/>
<path d="M553.9 1493.5V1469.2M553.9 56.5V77.9M895.8 1493.5V1469.2M895.8 56.5V77.9M1237.8 1493.5V1469.2M1237.8 56.5V77.9M1579.7 1493.5V1469.2M1579.7 56.5V77.9M1921.6 1493.5V1469.2M1921.6 56.5V77.9M211.9 1313.8H233.1M2263.6 1313.8H2239.2M211.9 1134.2H233.1M2263.6 1134.2H2239.2M211.9 954.6H233.1M2263.6 954.6H2239.2M211.9 775H233.1M2263.6 775H2239.2M211.9 595.4H233.1M2263.6 595.4H2239.2M211.9 415.7H233.1M2263.6 415.7H2239.2M211.9 236.1H233.1M2263.6 236.1H2239.2"/>
</g>
<g font-family="'Liberation Sans', sans-serif" font-size="41" fill="#000" stroke="#fff" stroke-width="0.5">
<text transform="scale(0.873,1)" x="229.4" y="1538">0</text>
<text transform="scale(0.873,1)" x="619.6" y="1538">1</text>
<text transform="scale(0.873,1)" x="1012.8" y="1538">2</text>
<text transform="scale(0.873,1)" x="1404.5" y="1538">3</text>
<text transform="scale(0.873,1)" x="1796.1" y="1538">4</text>
<text transform="scale(0.873,1)" x="2187.8" y="1538">5</text>
<text transform="scale(0.873,1)" x="2579.5" y="1538">6</text>
<text transform="scale(0.873,1)" x="203.4" y="1506.7">0</text>
<text transform="scale(0.873,1)" x="143.6 167.4 180.2 203.4" y="1327">0.02</text>
<text transform="scale(0.873,1)" x="143.6 167.4 180.2 203.4" y="1147.4">0.04</text>
<text transform="scale(0.873,1)" x="143.6 167.4 180.2 203.4" y="967.8">0.06</text>
<text transform="scale(0.873,1)" x="143.6 167.4 180.2 203.4" y="788.2">0.08</text>
<text transform="scale(0.873,1)" x="166.9 190.7 201.9" y="608.6">0.1</text>
<text transform="scale(0.873,1)" x="143.6 167.4 178.7 203.4" y="428.9">0.12</text>
<text transform="scale(0.873,1)" x="143.6 167.4 178.7 203.4" y="249.3">0.14</text>
<text transform="scale(0.873,1)" x="143.6 167.4 178.7 203.4" y="69.7">0.16</text>
</g>
<path fill="#000" d="M247.9 760.9L260.2 764.1L276 736.8L263.7 733.6ZM270.6 721.6L282.9 724.8L284.6 721.9L272.3 718.7ZM279.2 706.7L291.5 709.9L307.3 682.6L295 679.4ZM301.9 667.4L314.2 670.6L315.9 667.7L303.6 664.5ZM310.6 652.5L322.9 655.7L338.6 628.4L326.3 625.2ZM333.2 613.2L345.5 616.4L347.2 613.5L334.9 610.3ZM341.9 598.3L354.2 601.5L369.9 574.2L357.6 571ZM364.6 559L376.9 562.2L378.5 559.3L366.2 556.1ZM373.2 544.1L385.5 547.3L401.2 520L388.9 516.8ZM395.9 504.8L408.2 508L409.8 505.1L397.5 501.9ZM404.5 489.9L416.8 493.1L432.5 465.8L420.2 462.6ZM427.2 450.6L439.5 453.8L441.1 450.9L428.8 447.7ZM435.8 435.7L448.1 438.9L463.8 411.6L451.5 408.4ZM458.5 396.4L470.8 399.6L472.4 396.7L460.1 393.5ZM467.1 381.5L479.4 384.7L495.1 357.4L482.8 354.2ZM489.8 342.2L502.1 345.4L503.8 342.5L491.5 339.3ZM498.4 327.3L510.7 330.5L526.5 303.2L514.2 300ZM521.1 288L533.4 291.2L535.1 288.3L522.8 285.1ZM529.7 273.1L542 276.3L557.8 249L545.5 245.8ZM552.4 233.8L564.7 237L566.4 234.1L554.1 230.9ZM561 218.9L573.3 222.1L589.1 194.8L576.8 191.6ZM583.7 179.6L596 182.8L597.7 179.9L585.4 176.7ZM592.3 164.7L604.6 167.9L620.4 140.6L608.1 137.4Z"/>
<polygon fill="#000" points="606.7,112.4 609.7,109.7 620.9,109.7 629.2,98.3 637.9,97.8 643.8,101 643.8,111.9 640.6,111.9 640.6,126.5 643.8,126.5 643.8,134.7 637.9,135.2 633.8,140.6 629.2,135.6 620.9,128.3 620.9,126 612.4,126 606.7,122.9"/>
<path fill="#000" d="M244.6 337.5L240.4 349.8L267.7 370.6L271.9 358.3ZM283.9 367.5L279.7 379.8L282.6 382L286.8 369.7ZM298.8 378.8L294.6 391.1L321.9 411.9L326.1 399.6ZM338.1 408.7L333.9 421L336.8 423.2L341 410.9ZM353 420.1L348.8 432.4L376.1 453.1L380.3 440.8ZM392.3 450L388.1 462.3L391 464.5L395.2 452.2ZM407.2 461.3L403 473.6L430.3 494.4L434.5 482.1ZM446.5 491.2L442.3 503.5L445.2 505.8L449.4 493.5ZM461.4 502.6L457.2 514.9L484.5 535.7L488.7 523.4ZM500.7 532.5L496.5 544.8L499.4 547L503.6 534.7ZM515.6 543.9L511.4 556.2L538.7 576.9L542.9 564.6ZM554.9 573.8L550.7 586.1L553.6 588.3L557.8 576ZM569.8 585.1L565.6 597.4L592.9 618.2L597.1 605.9ZM609.1 615L604.9 627.3L607.8 629.6L612 617.3ZM624 626.4L619.8 638.7L647.1 659.5L651.3 647.2ZM663.3 656.3L659.1 668.6L662 670.8L666.2 658.5ZM678.2 667.7L674 680L701.3 700.7L705.5 688.4ZM717.5 697.6L713.3 709.9L716.2 712.1L720.4 699.8ZM732.4 708.9L728.2 721.2L755.5 742L759.7 729.7ZM771.7 738.8L767.5 751.1L770.4 753.4L774.6 741.1ZM786.6 750.2L782.4 762.5L809.7 783.3L813.9 771Z"/>
<polygon fill="#000" points="809,755.2 817.2,755.2 823,758.3 823,769.8 826,769.8 826,775 823,778.3 829,778.3 834.5,783.8 831.8,786.5 831.8,794.7 823.3,794.7 823.3,791.7 797.7,792 794.7,789 792,783.8 792,778.3 797.4,778.3 800.5,772.6 805.9,764 809,761.3"/>
<path fill="#f00" d="M218.6 389.8L220.2 400.1L247.5 391L245.9 380.7ZM257.9 376.7L259.5 387L262.4 386L260.8 375.7ZM272.8 371.7L274.4 382L301.7 373L300.1 362.7ZM312.1 358.7L313.7 369L316.6 368L315 357.7ZM327 353.7L328.6 364L355.9 354.9L354.3 344.6ZM366.3 340.6L367.9 350.9L370.8 350L369.2 339.7ZM381.2 335.7L382.8 346L410.1 336.9L408.5 326.6ZM420.5 322.6L422.1 332.9L425 331.9L423.4 321.6ZM435.4 317.6L437 327.9L464.3 318.8L462.7 308.5ZM474.7 304.5L476.3 314.8L479.2 313.9L477.6 303.6ZM489.6 299.6L491.2 309.9L518.5 300.8L516.9 290.5ZM528.9 286.5L530.5 296.8L533.4 295.8L531.8 285.5ZM543.8 281.5L545.4 291.8L572.7 282.7L571.1 272.4ZM583.1 268.4L584.7 278.7L587.6 277.8L586 267.5ZM598 263.5L599.6 273.8L626.9 264.7L625.3 254.4ZM637.3 250.4L638.9 260.7L641.8 259.7L640.2 249.4ZM652.2 245.4L653.8 255.7L681.1 246.7L679.5 236.4ZM691.5 232.4L693.1 242.7L696 241.7L694.4 231.4ZM706.4 227.4L708 237.7L735.3 228.6L733.7 218.3ZM745.7 214.3L747.3 224.6L750.2 223.7L748.6 213.4ZM760.6 209.4L762.2 219.7L789.5 210.6L787.9 200.3ZM799.9 196.3L801.5 206.6L804.4 205.6L802.8 195.3Z"/>
<polygon fill="#f00" points="794.4,189.2 797.4,186.3 800.4,183.3 805.9,183.3 812,189.2 831.7,189.2 834.5,195 834.5,202.9 828.7,205.9 822.9,211.7 817.2,218 817.2,222.9 812,222.9 803.2,219.9 800.1,205 797.4,198 794.4,195"/>
<rect x="831.8" y="82.4" width="611.1000000000001" height="1027.05" fill="#fff"/>
<path fill="none" stroke="#f00" stroke-width="5.8" clip-path="url(#ci)" d="M837.2 83.2L837.7 87.7L838.1 92.2L838.5 96.7L838.9 101.2L839.4 105.7L839.8 110.2L839.9 111.2M841 123.2L841 123.7L841.1 124.2L841.1 124.7L841.2 125.2L841.2 125.7M842.4 137.7L842.8 142.2L843.2 146.7L843.6 151.2L844 155.7L844.5 160.2L844.9 164.7L845 165.7M846.1 177.7L846.2 178.2L846.2 178.7L846.3 179.2L846.3 179.7M847.4 191.7L847.9 196.2L848.3 200.7L848.7 205.2L849.1 209.7L849.5 214.2L850 218.7L850.1 219.7M851.2 231.7L851.2 232.2L851.3 232.7L851.3 233.2L851.4 233.7L851.4 234.2M852.5 246.2L853 250.7L853.4 255.2L853.8 259.7L854.2 264.2L854.7 268.7L855.1 273.2L855.1 273.7M856.3 285.7L856.3 286.2L856.4 286.7L856.4 287.2L856.4 287.7L856.5 288.2M857.6 300.1L858 304.6L858.5 309.1L858.9 313.6L859.3 318.1L859.7 322.6L860.2 327.1L860.2 328.1M861.4 340.1L861.4 340.6L861.5 341.1L861.5 341.6L861.6 342.1L861.6 342.6M862.7 354.6L863.2 359.1L863.6 363.6L864 368.1L864.4 372.6L864.9 377.1L865.3 381.6L865.3 382.1M866.4 394.1L866.5 394.6L866.5 395.1L866.6 395.6L866.6 396.1L866.7 396.6M867.8 408.6L868.2 413.1L868.7 417.6L869.1 422.1L869.5 426.6L869.9 431.1L870.3 435.6L870.4 436.6M871.6 448.6L871.6 449.1L871.7 449.6L871.7 450.1L871.8 450.6M872.9 462.6L873.3 467.1L873.7 471.6L874.1 476.1L874.6 480.6L875 485.1L875.4 489.6L875.5 490.6M876.6 502.6L876.7 503.1L876.7 503.6L876.8 504.1L876.8 504.6L876.9 505.1M878 517.1L878.4 521.6L878.8 526.1L879.3 530.6L879.7 535.1L880.1 539.6L880.5 544.1L880.6 545.1M881.8 557.1L881.8 557.6L881.9 558.1L881.9 558.6L881.9 559.1M883.1 571.1L883.5 575.6L883.9 580.1L884.3 584.6L884.8 589.1L885.2 593.6L885.6 598.1L885.7 599.1M886.8 611.1L886.9 611.6L886.9 612.1L887 612.6L887 613.1L887.1 613.6M888.2 625.6L888.6 630.1L889 634.6L889.5 639.1L889.9 643.6L890.3 648.1L890.7 652.6L890.8 653.1M891.9 665.1L891.9 665.6L892 666.1L892 666.6L892.1 667.1L892.1 667.6M893.3 679.6L893.7 684.1L894.1 688.6L894.5 693.1L895 697.6L895.4 702L895.8 706.5L895.9 707.5M897 719.5L897.1 720L897.1 720.5L897.2 721L897.2 721.5L897.3 722M898.4 734L898.8 738.5L899.2 743L899.6 747.5L900.1 752L900.5 756.5L900.9 761L901 761.5M902.1 773.5L902.1 774L902.2 774.5L902.2 775L902.3 775.5L902.3 776M903.5 788L903.9 792.5L904.3 797L904.7 801.5L905.1 806L905.6 810.5L906 815L906.1 816M907.2 828L907.3 828.5L907.3 829L907.3 829.5L907.4 830M908.5 842L908.9 846.5L909.4 851L909.8 855.5L910.2 860L910.6 864.5L911.1 869L911.2 870M912.3 882L912.3 882.5L912.4 883L912.4 883.5L912.5 884L912.5 884.5M913.6 896.5L914.1 901L914.5 905.5L914.9 910L915.3 914.5L915.8 919L916.2 923.5L916.3 924.5M917.4 936.5L917.4 937L917.5 937.5L917.5 938L917.6 938.5M918.7 950.5L919.1 955L919.6 959.5L920 964L920.4 968.5L920.8 973L921.3 977.5L921.3 978.5M922.5 990.5L922.5 991L922.6 991.5L922.6 992L922.7 992.5L922.7 993M923.8 1005L924.3 1009.5L924.7 1014L925.1 1018.5L925.5 1023L925.9 1027.5L926.4 1032L926.4 1032.5M927.5 1044.5L927.6 1045L927.6 1045.5L927.7 1046L927.7 1046.5L927.8 1047M928.9 1059L929.3 1063.5L929.7 1068L930.2 1072.5L930.6 1077L931 1081.5L931.4 1086L931.5 1087M932.7 1099L932.7 1099.5L932.8 1100L932.8 1100.5L932.8 1101L932.9 1101.5"/>
<path fill="none" stroke="#f00" stroke-width="5.8" clip-path="url(#ci)" d="M857.1 83.2L857.6 87.7L858 92.2L858.4 96.7L858.8 101.2L859.3 105.7L859.7 110.2L859.8 111.2M860.9 123.2L861 123.7L861 124.2L861 124.7L861.1 125.2L861.1 125.7M862.3 137.7L862.7 142.2L863.1 146.7L863.5 151.2L864 155.7L864.4 160.2L864.8 164.7L864.9 165.7M866 177.7L866.1 178.2L866.1 178.7L866.2 179.2L866.2 179.7M867.4 191.7L867.8 196.2L868.2 200.7L868.6 205.2L869 209.7L869.5 214.2L869.9 218.7L870 219.7M871.1 231.7L871.2 232.2L871.2 232.7L871.3 233.2L871.3 233.7L871.4 234.2M872.5 246.2L872.9 250.7L873.3 255.2L873.8 259.7L874.2 264.2L874.6 268.7L875 273.2L875.1 273.7M876.2 285.7L876.2 286.2L876.3 286.7L876.3 287.2L876.4 287.7L876.4 288.2M877.6 300.1L878 304.6L878.4 309.1L878.8 313.6L879.3 318.1L879.7 322.6L880.1 327.1L880.2 328.1M881.3 340.1L881.4 340.6L881.4 341.1L881.5 341.6L881.5 342.1L881.6 342.6M882.7 354.6L883.1 359.1L883.5 363.6L884 368.1L884.4 372.6L884.8 377.1L885.2 381.6L885.3 382.1M886.4 394.1L886.5 394.6L886.5 395.1L886.6 395.6L886.6 396.1L886.6 396.6M887.8 408.6L888.2 413.1L888.6 417.6L889 422.1L889.5 426.6L889.9 431.1L890.3 435.6L890.4 436.6M891.5 448.6L891.6 449.1L891.6 449.6L891.7 450.1L891.7 450.6M892.9 462.6L893.3 467.1L893.7 471.6L894.1 476.1L894.6 480.6L895 485.1L895.4 489.6L895.5 490.6M896.6 502.6L896.7 503.1L896.7 503.6L896.8 504.1L896.8 504.6L896.9 505.1M898 517.1L898.4 521.6L898.8 526.1L899.3 530.6L899.7 535.1L900.1 539.6L900.5 544.1L900.6 545.1M901.8 557.1L901.8 557.6L901.8 558.1L901.9 558.6L901.9 559.1M903.1 571.1L903.5 575.6L903.9 580.1L904.3 584.6L904.8 589.1L905.2 593.6L905.6 598.1L905.7 599.1M906.8 611.1L906.9 611.6L906.9 612.1L907 612.6L907 613.1L907.1 613.6M908.2 625.6L908.6 630.1L909 634.6L909.5 639.1L909.9 643.6L910.3 648.1L910.7 652.6L910.8 653.1M911.9 665.1L912 665.6L912 666.1L912.1 666.6L912.1 667.1L912.2 667.6M913.3 679.6L913.7 684.1L914.1 688.6L914.6 693.1L915 697.6L915.4 702L915.8 706.5L915.9 707.5M917 719.5L917.1 720L917.1 720.5L917.2 721L917.2 721.5L917.3 722M918.4 734L918.8 738.5L919.3 743L919.7 747.5L920.1 752L920.5 756.5L920.9 761L921 761.5M922.1 773.5L922.2 774L922.2 774.5L922.3 775L922.3 775.5L922.4 776M923.5 788L923.9 792.5L924.3 797L924.8 801.5L925.2 806L925.6 810.5L926 815L926.1 816M927.3 828L927.3 828.5L927.3 829L927.4 829.5L927.4 830M928.6 842L929 846.5L929.4 851L929.8 855.5L930.3 860L930.7 864.5L931.1 869L931.2 870M932.3 882L932.4 882.5L932.4 883L932.5 883.5L932.5 884L932.6 884.5M933.7 896.5L934.1 901L934.5 905.5L935 910L935.4 914.5L935.8 919L936.2 923.5L936.3 924.5M937.5 936.5L937.5 937L937.6 937.5L937.6 938L937.7 938.5M938.8 950.5L939.2 955L939.6 959.5L940.1 964L940.5 968.5L940.9 973L941.3 977.5L941.4 978.5M942.5 990.5L942.6 991L942.6 991.5L942.7 992L942.7 992.5L942.8 993M943.9 1005L944.3 1009.5L944.8 1014L945.2 1018.5L945.6 1023L946 1027.5L946.5 1032L946.5 1032.5M947.6 1044.5L947.7 1045L947.7 1045.5L947.8 1046L947.8 1046.5L947.9 1047M949 1059L949.4 1063.5L949.8 1068L950.3 1072.5L950.7 1077L951.1 1081.5L951.5 1086L951.6 1087M952.8 1099L952.8 1099.5L952.9 1100L952.9 1100.5L952.9 1101L953 1101.5"/>
<path fill="none" stroke="#f00" stroke-width="7.6" clip-path="url(#ci)" d="M878.6 83.2L879.1 87.7L879.5 92.2L879.9 96.7L880.3 101.2L880.8 105.7L881.2 110.2L881.3 111.2M882.4 123.2L882.4 123.7L882.5 124.2L882.5 124.7L882.6 125.2L882.6 125.7M883.8 137.7L884.2 142.2L884.6 146.7L885 151.2L885.5 155.7L885.9 160.2L886.3 164.7L886.4 165.7M887.5 177.7L887.6 178.2L887.6 178.7L887.7 179.2L887.7 179.7M888.8 191.7L889.3 196.2L889.7 200.7L890.1 205.2L890.5 209.7L891 214.2L891.4 218.7L891.5 219.7M892.6 231.7L892.6 232.2L892.7 232.7L892.7 233.2L892.8 233.7L892.8 234.2M894 246.2L894.4 250.7L894.8 255.2L895.2 259.7L895.7 264.2L896.1 268.7L896.5 273.2L896.5 273.7M897.7 285.7L897.7 286.2L897.8 286.7L897.8 287.2L897.9 287.7L897.9 288.2M899 300.1L899.5 304.6L899.9 309.1L900.3 313.6L900.7 318.1L901.2 322.6L901.6 327.1L901.7 328.1M902.8 340.1L902.8 340.6L902.9 341.1L902.9 341.6L903 342.1L903 342.6M904.2 354.6L904.6 359.1L905 363.6L905.4 368.1L905.9 372.6L906.3 377.1L906.7 381.6L906.8 382.1M907.9 394.1L907.9 394.6L908 395.1L908 395.6L908.1 396.1L908.1 396.6M909.2 408.6L909.7 413.1L910.1 417.6L910.5 422.1L910.9 426.6L911.4 431.1L911.8 435.6L911.9 436.6M913 448.6L913 449.1L913.1 449.6L913.1 450.1L913.2 450.6M914.3 462.6L914.7 467.1L915.2 471.6L915.6 476.1L916 480.6L916.4 485.1L916.9 489.6L917 490.6M918.1 502.6L918.1 503.1L918.2 503.6L918.2 504.1L918.3 504.6L918.3 505.1M919.4 517.1L919.9 521.6L920.3 526.1L920.7 530.6L921.1 535.1L921.6 539.6L922 544.1L922.1 545.1M923.2 557.1L923.3 557.6L923.3 558.1L923.3 558.6L923.4 559.1M924.5 571.1L924.9 575.6L925.4 580.1L925.8 584.6L926.2 589.1L926.6 593.6L927.1 598.1L927.2 599.1M928.3 611.1L928.3 611.6L928.4 612.1L928.4 612.6L928.5 613.1L928.5 613.6M929.6 625.6L930.1 630.1L930.5 634.6L930.9 639.1L931.3 643.6L931.8 648.1L932.2 652.6L932.2 653.1M933.4 665.1L933.4 665.6L933.5 666.1L933.5 666.6L933.5 667.1L933.6 667.6M934.7 679.6L935.1 684.1L935.6 688.6L936 693.1L936.4 697.6L936.8 702L937.3 706.5L937.4 707.5M938.5 719.5L938.5 720L938.6 720.5L938.6 721L938.7 721.5L938.7 722M939.8 734L940.3 738.5L940.7 743L941.1 747.5L941.5 752L942 756.5L942.4 761L942.4 761.5M943.6 773.5L943.6 774L943.7 774.5L943.7 775L943.7 775.5L943.8 776M944.9 788L945.3 792.5L945.8 797L946.2 801.5L946.6 806L947 810.5L947.5 815L947.6 816M948.7 828L948.7 828.5L948.8 829L948.8 829.5L948.9 830M950 842L950.4 846.5L950.8 851L951.3 855.5L951.7 860L952.1 864.5L952.5 869L952.6 870M953.8 882L953.8 882.5L953.9 883L953.9 883.5L953.9 884L954 884.5M955.1 896.5L955.5 901L956 905.5L956.4 910L956.8 914.5L957.2 919L957.7 923.5L957.8 924.5M958.9 936.5L958.9 937L959 937.5L959 938L959.1 938.5M960.2 950.5L960.6 955L961 959.5L961.5 964L961.9 968.5L962.3 973L962.7 977.5L962.8 978.5M964 990.5L964 991L964.1 991.5L964.1 992L964.1 992.5L964.2 993M965.3 1005L965.7 1009.5L966.2 1014L966.6 1018.5L967 1023L967.4 1027.5L967.9 1032L967.9 1032.5M969 1044.5L969.1 1045L969.1 1045.5L969.2 1046L969.2 1046.5L969.3 1047M970.4 1059L970.8 1063.5L971.2 1068L971.7 1072.5L972.1 1077L972.5 1081.5L972.9 1086L973 1087M974.2 1099L974.2 1099.5L974.3 1100L974.3 1100.5L974.3 1101L974.4 1101.5"/>
<path fill="none" stroke="#000" stroke-width="5.8" clip-path="url(#ci)" d="M1205 83.2L1205.5 87.7L1205.9 92.2L1206.4 96.7L1206.9 101.2L1207.3 105.7L1207.8 110.2L1207.9 111.2M1209.1 123.2L1209.1 123.7L1209.2 124.2L1209.2 124.7L1209.3 125.2L1209.3 125.7M1210.5 137.7L1211 142.2L1211.5 146.7L1211.9 151.2L1212.4 155.7L1212.8 160.2L1213.3 164.7L1213.4 165.7M1214.6 177.7L1214.6 178.2L1214.7 178.7L1214.7 179.2L1214.8 179.7M1216 191.7L1216.5 196.2L1216.9 200.7L1217.4 205.2L1217.8 209.7L1218.3 214.2L1218.7 218.7L1218.8 219.7M1220 231.7L1220.1 232.2L1220.2 232.7L1220.2 233.2L1220.3 233.7L1220.3 234.2M1221.5 246.2L1222 250.7L1222.4 255.2L1222.9 259.7L1223.3 264.2L1223.8 268.7L1224.2 273.2L1224.3 273.7M1225.5 285.7L1225.6 286.2L1225.6 286.7L1225.7 287.2L1225.7 287.7L1225.8 288.2M1227 300.1L1227.4 304.6L1227.9 309.1L1228.3 313.6L1228.8 318.1L1229.3 322.6L1229.7 327.1L1229.8 328.1M1231 340.1L1231.1 340.6L1231.1 341.1L1231.2 341.6L1231.2 342.1L1231.3 342.6M1232.5 354.6L1232.9 359.1L1233.4 363.6L1233.9 368.1L1234.3 372.6L1234.8 377.1L1235.2 381.6L1235.3 382.1M1236.5 394.1L1236.5 394.6L1236.6 395.1L1236.6 395.6L1236.7 396.1L1236.7 396.6M1237.9 408.6L1238.4 413.1L1238.9 417.6L1239.3 422.1L1239.8 426.6L1240.2 431.1L1240.7 435.6L1240.8 436.6M1242 448.6L1242 449.1L1242.1 449.6L1242.1 450.1L1242.2 450.6M1243.4 462.6L1243.9 467.1L1244.3 471.6L1244.8 476.1L1245.2 480.6L1245.7 485.1L1246.1 489.6L1246.2 490.6M1247.5 502.6L1247.5 503.1L1247.6 503.6L1247.6 504.1L1247.7 504.6L1247.7 505.1M1248.9 517.1L1249.4 521.6L1249.8 526.1L1250.3 530.6L1250.7 535.1L1251.2 539.6L1251.6 544.1L1251.7 545.1M1253 557.1L1253 557.6L1253.1 558.1L1253.1 558.6L1253.2 559.1M1254.4 571.1L1254.8 575.6L1255.3 580.1L1255.7 584.6L1256.2 589.1L1256.7 593.6L1257.1 598.1L1257.2 599.1M1258.4 611.1L1258.5 611.6L1258.5 612.1L1258.6 612.6L1258.6 613.1L1258.7 613.6M1259.9 625.6L1260.3 630.1L1260.8 634.6L1261.3 639.1L1261.7 643.6L1262.2 648.1L1262.6 652.6L1262.7 653.1M1263.9 665.1L1263.9 665.6L1264 666.1L1264 666.6L1264.1 667.1L1264.1 667.6M1265.3 679.6L1265.8 684.1L1266.3 688.6L1266.7 693.1L1267.2 697.6L1267.6 702L1268.1 706.5L1268.2 707.5M1269.4 719.5L1269.4 720L1269.5 720.5L1269.5 721L1269.6 721.5L1269.6 722M1270.9 734L1271.3 738.5L1271.8 743L1272.2 747.5L1272.7 752L1273.1 756.5L1273.6 761L1273.6 761.5M1274.9 773.5L1274.9 774L1275 774.5L1275 775L1275.1 775.5L1275.1 776M1276.3 788L1276.8 792.5L1277.2 797L1277.7 801.5L1278.1 806L1278.6 810.5L1279 815L1279.2 816M1280.4 828L1280.4 828.5L1280.5 829L1280.5 829.5L1280.6 830M1281.8 842L1282.2 846.5L1282.7 851L1283.1 855.5L1283.6 860L1284.1 864.5L1284.5 869L1284.6 870M1285.8 882L1285.9 882.5L1285.9 883L1286 883.5L1286 884L1286.1 884.5M1287.3 896.5L1287.7 901L1288.2 905.5L1288.7 910L1289.1 914.5L1289.6 919L1290 923.5L1290.1 924.5M1291.3 936.5L1291.4 937L1291.4 937.5L1291.5 938L1291.5 938.5M1292.8 950.5L1293.2 955L1293.7 959.5L1294.1 964L1294.6 968.5L1295 973L1295.5 977.5L1295.6 978.5M1296.8 990.5L1296.8 991L1296.9 991.5L1296.9 992L1297 992.5L1297 993M1298.3 1005L1298.7 1009.5L1299.2 1014L1299.6 1018.5L1300.1 1023L1300.5 1027.5L1301 1032L1301 1032.5M1302.3 1044.5L1302.3 1045L1302.4 1045.5L1302.4 1046L1302.5 1046.5L1302.5 1047M1303.7 1059L1304.2 1063.5L1304.6 1068L1305.1 1072.5L1305.5 1077L1306 1081.5L1306.5 1086L1306.6 1087M1307.8 1099L1307.8 1099.5L1307.9 1100L1307.9 1100.5L1308 1101L1308 1101.5"/>
<path fill="none" stroke="#000" stroke-width="6.4" clip-path="url(#ci)" d="M1238.9 83.2L1239.4 87.7L1239.9 92.2L1240.3 96.7L1240.8 101.2L1241.2 105.7L1241.7 110.2L1241.8 111.2M1243 123.2L1243.1 123.7L1243.1 124.2L1243.2 124.7L1243.2 125.2L1243.3 125.7M1244.5 137.7L1245 142.2L1245.4 146.7L1245.9 151.2L1246.4 155.7L1246.8 160.2L1247.3 164.7L1247.4 165.7M1248.6 177.7L1248.7 178.2L1248.7 178.7L1248.8 179.2L1248.8 179.7M1250.1 191.7L1250.5 196.2L1251 200.7L1251.4 205.2L1251.9 209.7L1252.4 214.2L1252.8 218.7L1252.9 219.7M1254.2 231.7L1254.2 232.2L1254.3 232.7L1254.3 233.2L1254.4 233.7L1254.4 234.2M1255.6 246.2L1256.1 250.7L1256.6 255.2L1257 259.7L1257.5 264.2L1257.9 268.7L1258.4 273.2L1258.5 273.7M1259.7 285.7L1259.7 286.2L1259.8 286.7L1259.8 287.2L1259.9 287.7L1259.9 288.2M1261.2 300.1L1261.6 304.6L1262.1 309.1L1262.6 313.6L1263 318.1L1263.5 322.6L1263.9 327.1L1264 328.1M1265.3 340.1L1265.3 340.6L1265.4 341.1L1265.4 341.6L1265.5 342.1L1265.5 342.6M1266.8 354.6L1267.2 359.1L1267.7 363.6L1268.1 368.1L1268.6 372.6L1269.1 377.1L1269.5 381.6L1269.6 382.1M1270.8 394.1L1270.9 394.6L1270.9 395.1L1271 395.6L1271 396.1L1271.1 396.6M1272.3 408.6L1272.8 413.1L1273.2 417.6L1273.7 422.1L1274.1 426.6L1274.6 431.1L1275.1 435.6L1275.2 436.6M1276.4 448.6L1276.4 449.1L1276.5 449.6L1276.5 450.1L1276.6 450.6M1277.8 462.6L1278.3 467.1L1278.8 471.6L1279.2 476.1L1279.7 480.6L1280.1 485.1L1280.6 489.6L1280.7 490.6M1281.9 502.6L1282 503.1L1282 503.6L1282.1 504.1L1282.1 504.6L1282.2 505.1M1283.4 517.1L1283.9 521.6L1284.3 526.1L1284.8 530.6L1285.3 535.1L1285.7 539.6L1286.2 544.1L1286.3 545.1M1287.5 557.1L1287.6 557.6L1287.6 558.1L1287.7 558.6L1287.7 559.1M1289 571.1L1289.4 575.6L1289.9 580.1L1290.3 584.6L1290.8 589.1L1291.3 593.6L1291.7 598.1L1291.8 599.1M1293.1 611.1L1293.1 611.6L1293.2 612.1L1293.2 612.6L1293.3 613.1L1293.3 613.6M1294.5 625.6L1295 630.1L1295.5 634.6L1295.9 639.1L1296.4 643.6L1296.8 648.1L1297.3 652.6L1297.4 653.1M1298.6 665.1L1298.6 665.6L1298.7 666.1L1298.7 666.6L1298.8 667.1L1298.8 667.6M1300.1 679.6L1300.5 684.1L1301 688.6L1301.5 693.1L1301.9 697.6L1302.4 702L1302.8 706.5L1302.9 707.5M1304.2 719.5L1304.2 720L1304.3 720.5L1304.3 721L1304.4 721.5L1304.4 722M1305.7 734L1306.1 738.5L1306.6 743L1307 747.5L1307.5 752L1308 756.5L1308.4 761L1308.5 761.5M1309.7 773.5L1309.8 774L1309.8 774.5L1309.9 775L1309.9 775.5L1310 776M1311.2 788L1311.7 792.5L1312.1 797L1312.6 801.5L1313 806L1313.5 810.5L1314 815L1314.1 816M1315.3 828L1315.3 828.5L1315.4 829L1315.4 829.5L1315.5 830M1316.7 842L1317.2 846.5L1317.6 851L1318.1 855.5L1318.6 860L1319 864.5L1319.5 869L1319.6 870M1320.8 882L1320.9 882.5L1320.9 883L1321 883.5L1321 884L1321.1 884.5M1322.3 896.5L1322.8 901L1323.2 905.5L1323.7 910L1324.2 914.5L1324.6 919L1325.1 923.5L1325.2 924.5M1326.4 936.5L1326.5 937L1326.5 937.5L1326.6 938L1326.6 938.5M1327.8 950.5L1328.3 955L1328.8 959.5L1329.2 964L1329.7 968.5L1330.2 973L1330.6 977.5L1330.7 978.5M1331.9 990.5L1332 991L1332 991.5L1332.1 992L1332.2 992.5L1332.2 993M1333.4 1005L1333.9 1009.5L1334.4 1014L1334.8 1018.5L1335.3 1023L1335.7 1027.5L1336.2 1032L1336.3 1032.5M1337.5 1044.5L1337.5 1045L1337.6 1045.5L1337.6 1046L1337.7 1046.5L1337.7 1047M1339 1059L1339.4 1063.5L1339.9 1068L1340.4 1072.5L1340.8 1077L1341.3 1081.5L1341.7 1086L1341.8 1087M1343.1 1099L1343.1 1099.5L1343.2 1100L1343.2 1100.5L1343.3 1101L1343.3 1101.5"/>
<path fill="none" stroke="#000" stroke-width="6.4" clip-path="url(#ci)" d="M1279 83.2L1279.5 87.7L1280 92.2L1280.4 96.7L1280.9 101.2L1281.3 105.7L1281.8 110.2L1281.9 111.2M1283.1 123.2L1283.2 123.7L1283.2 124.2L1283.3 124.7L1283.3 125.2L1283.4 125.7M1284.6 137.7L1285.1 142.2L1285.6 146.7L1286 151.2L1286.5 155.7L1286.9 160.2L1287.4 164.7L1287.5 165.7M1288.7 177.7L1288.8 178.2L1288.8 178.7L1288.9 179.2L1288.9 179.7M1290.2 191.7L1290.6 196.2L1291.1 200.7L1291.6 205.2L1292 209.7L1292.5 214.2L1292.9 218.7L1293.1 219.7M1294.3 231.7L1294.3 232.2L1294.4 232.7L1294.4 233.2L1294.5 233.7L1294.5 234.2M1295.8 246.2L1296.2 250.7L1296.7 255.2L1297.2 259.7L1297.6 264.2L1298.1 268.7L1298.5 273.2L1298.6 273.7M1299.8 285.7L1299.9 286.2L1299.9 286.7L1300 287.2L1300 287.7L1300.1 288.2M1301.3 300.1L1301.8 304.6L1302.2 309.1L1302.7 313.6L1303.2 318.1L1303.6 322.6L1304.1 327.1L1304.2 328.1M1305.4 340.1L1305.5 340.6L1305.5 341.1L1305.6 341.6L1305.6 342.1L1305.7 342.6M1306.9 354.6L1307.4 359.1L1307.8 363.6L1308.3 368.1L1308.8 372.6L1309.2 377.1L1309.7 381.6L1309.7 382.1M1311 394.1L1311 394.6L1311.1 395.1L1311.1 395.6L1311.2 396.1L1311.2 396.6M1312.5 408.6L1312.9 413.1L1313.4 417.6L1313.8 422.1L1314.3 426.6L1314.8 431.1L1315.2 435.6L1315.3 436.6M1316.6 448.6L1316.6 449.1L1316.7 449.6L1316.7 450.1L1316.8 450.6M1318 462.6L1318.5 467.1L1318.9 471.6L1319.4 476.1L1319.9 480.6L1320.3 485.1L1320.8 489.6L1320.9 490.6M1322.1 502.6L1322.2 503.1L1322.2 503.6L1322.3 504.1L1322.3 504.6L1322.4 505.1M1323.6 517.1L1324.1 521.6L1324.5 526.1L1325 530.6L1325.4 535.1L1325.9 539.6L1326.4 544.1L1326.5 545.1M1327.7 557.1L1327.8 557.6L1327.8 558.1L1327.9 558.6L1327.9 559.1M1329.1 571.1L1329.6 575.6L1330.1 580.1L1330.5 584.6L1331 589.1L1331.5 593.6L1331.9 598.1L1332 599.1M1333.3 611.1L1333.3 611.6L1333.4 612.1L1333.4 612.6L1333.5 613.1L1333.5 613.6M1334.7 625.6L1335.2 630.1L1335.7 634.6L1336.1 639.1L1336.6 643.6L1337.1 648.1L1337.5 652.6L1337.6 653.1M1338.8 665.1L1338.9 665.6L1338.9 666.1L1339 666.6L1339 667.1L1339.1 667.6M1340.3 679.6L1340.8 684.1L1341.2 688.6L1341.7 693.1L1342.1 697.6L1342.6 702L1343.1 706.5L1343.2 707.5M1344.4 719.5L1344.4 720L1344.5 720.5L1344.5 721L1344.6 721.5L1344.7 722M1345.9 734L1346.3 738.5L1346.8 743L1347.3 747.5L1347.7 752L1348.2 756.5L1348.7 761L1348.7 761.5M1349.9 773.5L1350 774L1350 774.5L1350.1 775L1350.1 775.5L1350.2 776M1351.4 788L1351.9 792.5L1352.4 797L1352.8 801.5L1353.3 806L1353.7 810.5L1354.2 815L1354.3 816M1355.5 828L1355.6 828.5L1355.6 829L1355.7 829.5L1355.7 830M1357 842L1357.4 846.5L1357.9 851L1358.4 855.5L1358.8 860L1359.3 864.5L1359.7 869L1359.9 870M1361.1 882L1361.1 882.5L1361.2 883L1361.2 883.5L1361.3 884L1361.3 884.5M1362.6 896.5L1363 901L1363.5 905.5L1364 910L1364.4 914.5L1364.9 919L1365.3 923.5L1365.4 924.5M1366.7 936.5L1366.7 937L1366.8 937.5L1366.8 938L1366.9 938.5M1368.1 950.5L1368.6 955L1369 959.5L1369.5 964L1370 968.5L1370.4 973L1370.9 977.5L1371 978.5M1372.2 990.5L1372.3 991L1372.3 991.5L1372.4 992L1372.4 992.5L1372.5 993M1373.7 1005L1374.2 1009.5L1374.6 1014L1375.1 1018.5L1375.6 1023L1376 1027.5L1376.5 1032L1376.5 1032.5M1377.8 1044.5L1377.8 1045L1377.9 1045.5L1377.9 1046L1378 1046.5L1378 1047M1379.3 1059L1379.7 1063.5L1380.2 1068L1380.6 1072.5L1381.1 1077L1381.6 1081.5L1382 1086L1382.1 1087M1383.4 1099L1383.4 1099.5L1383.5 1100L1383.5 1100.5L1383.6 1101L1383.6 1101.5"/>
<g stroke="#000" stroke-width="2.9" fill="none">
<rect x="830.4" y="82.4" width="612.5000000000001" height="1027.05"/>
<path d="M958.4 1109.5V1096.9M958.4 82.4V94.8M1089.5 1109.5V1096.9M1089.5 82.4V94.8M1220.5 1109.5V1096.9M1220.5 82.4V94.8M1351.6 1109.5V1096.9M1351.6 82.4V94.8M830.4 267.2H840M1442.9 267.2H1430.2M830.4 472.2H840M1442.9 472.2H1430.2M830.4 677.1H840M1442.9 677.1H1430.2M830.4 882H840M1442.9 882H1430.2M830.4 1086.9H840M1442.9 1086.9H1430.2"/>
</g>
<g font-family="'Liberation Sans', sans-serif" font-size="41" fill="#000" stroke="#fff" stroke-width="0.5">
<text transform="scale(0.873,1)" x="938" y="1153.8">0</text>
<text transform="scale(0.873,1)" x="1054.7 1078.6 1091.3 1114.5" y="1153.8">0.02</text>
<text transform="scale(0.873,1)" x="1204.9 1228.7 1241.5 1264.7" y="1153.8">0.04</text>
<text transform="scale(0.873,1)" x="1355 1378.8 1391.5 1414.8" y="1153.8">0.06</text>
<text transform="scale(0.873,1)" x="1505.1 1529 1541.7 1564.9" y="1153.8">0.08</text>
<text transform="scale(0.873,1)" x="828.9 852.7 863.9 888.6 911.9" y="280.1">0.129</text>
<text transform="scale(0.873,1)" x="805.6 829.4 840.7 865.4 888.6 911.9" y="485.1">0.1285</text>
<text transform="scale(0.873,1)" x="828.9 852.7 863.9 888.6 911.9" y="690">0.128</text>
<text transform="scale(0.873,1)" x="805.6 829.4 840.7 865.4 888.6 911.9" y="894.9">0.1275</text>
<text transform="scale(0.873,1)" x="828.9 852.7 863.9 888.6 911.9" y="1099.8">0.127</text>
</g>
<polygon fill="#f00" points="794.4,189.2 797.4,186.3 800.4,183.3 805.9,183.3 812,189.2 831.7,189.2 834.5,195 834.5,202.9 828.7,205.9 822.9,211.7 817.2,218 817.2,222.9 812,222.9 803.2,219.9 800.1,205 797.4,198 794.4,195"/>
<polygon fill="#000" points="809,755.2 817.2,755.2 823,758.3 823,769.8 826,769.8 826,775 823,778.3 829,778.3 834.5,783.8 831.8,786.5 831.8,794.7 823.3,794.7 823.3,791.7 797.7,792 794.7,789 792,783.8 792,778.3 797.4,778.3 800.5,772.6 805.9,764 809,761.3"/>
<text xml:space="preserve" transform="translate(1489.2,982.7) scale(0.9973,1.0084)" stroke="#fff" stroke-width="1.1" font-family="'Liberation Sans', sans-serif" font-weight="bold" font-style="italic" font-size="68">Copper-</text>
<text xml:space="preserve" transform="translate(1488.5,1062.6) scale(1.0092,0.9710)" stroke="#fff" stroke-width="1.1" font-family="'Liberation Sans', sans-serif" font-weight="bold" font-style="italic" font-size="68">Engine Oil</text>
<text xml:space="preserve" transform="translate(1487.8,1221.8) scale(0.9884,0.9670)" stroke="#fff" stroke-width="1.1" font-family="'Liberation Sans', sans-serif" font-weight="bold" font-style="italic" font-size="68">Aluminium</text>
<text xml:space="preserve" transform="translate(1489.2,1301.3) scale(1.0115,0.9690)" stroke="#fff" stroke-width="1.1" font-family="'Liberation Sans', sans-serif" font-weight="bold" font-style="italic" font-size="68">Oxide-</text>
<text xml:space="preserve" transform="translate(1488.5,1381) scale(1.0092,0.9710)" stroke="#fff" stroke-width="1.1" font-family="'Liberation Sans', sans-serif" font-weight="bold" font-style="italic" font-size="68">Engine Oil</text>
<text xml:space="preserve" transform="translate(0,194.2) scale(1.0231,1.0147)" stroke="#fff" stroke-width="1.1" font-family="'Liberation Sans', sans-serif" font-weight="bold" font-style="italic" font-size="68"><tspan x="1676.4">= </tspan><tspan x="1734.1">0.2, </tspan><tspan x="1865.4">0.4,</tspan><tspan x="1976.8">0.6</tspan></text>
<text transform="translate(1646.5,196.9) scale(0.8395,0.6619)" font-family="'Liberation Serif', serif" font-weight="normal" font-style="italic" font-size="100">ς</text>
<text transform="translate(1680.9,155.7) scale(0.4462,0.4649)" font-family="'Liberation Sans', sans-serif" font-weight="bold" font-style="normal" font-size="100">*</text>
<text transform="translate(1210.1,1633.7) scale(0.5782,0.5784)" font-family="'Liberation Sans', sans-serif" font-weight="bold" font-style="italic" font-size="100">γ</text>
<text transform="translate(1241.7,1593) scale(0.4513,0.4676)" font-family="'Liberation Sans', sans-serif" font-weight="bold" font-style="normal" font-size="100">*</text>
<text transform="rotate(-90) translate(-833.4,95.8) scale(0.4868,0.5743)" font-family="'Liberation Sans', sans-serif" font-weight="bold" font-style="italic" font-size="100">ϐ</text>
<text transform="rotate(-90) translate(-806.3,96.4) scale(0.5824,0.6922)" font-family="'Liberation Serif', serif" font-weight="bold" font-style="italic" font-size="100">(</text>
<text transform="rotate(-90) translate(-779.7,98.8) scale(0.4145,0.5757)" font-family="'Liberation Sans', sans-serif" font-weight="bold" font-style="italic" font-size="100">γ</text>
<text transform="rotate(-90) translate(-749.5,54.8) scale(0.3718,0.4676)" font-family="'Liberation Sans', sans-serif" font-weight="bold" font-style="normal" font-size="100">*</text>
<text transform="rotate(-90) translate(-730.9,96.4) scale(0.5794,0.6922)" font-family="'Liberation Serif', serif" font-weight="bold" font-style="italic" font-size="100">)</text>
<path fill="#000" d="M1897.2 951.6H1925.9V962.9H1897.2ZM1937.1 951.6H1940V962.9H1937.1ZM1951.3 951.6H1979.9V962.9H1951.3ZM1991.2 951.6H1994V962.9H1991.2ZM2005.6 951.6H2034.1V962.9H2005.6ZM2045.4 951.6H2048.2V965.7H2045.4ZM2059.9 951.6H2088.1V965.7H2059.9ZM2099.5 951.6H2102.5V965.7H2099.5ZM2113.9 951.6H2142.4V965.7H2113.9ZM2153.9 951.6H2156.7V965.7H2153.9ZM2168.1 951.6H2185.2V965.7H2168.1Z"/>
<path stroke="#f00" stroke-width="2.9" d="M1893 1207.6V1222M1907.3 1207.6V1222M1921.5 1207.6V1222M1935.8 1207.6V1222M1950 1207.6V1222M1964.3 1207.6V1222M1978.5 1207.6V1222M1992.8 1207.6V1222M2007 1207.6V1222M2021.3 1207.6V1222M2035.5 1207.6V1222M2049.8 1207.6V1222M2064.1 1207.6V1222M2078.3 1207.6V1222M2092.6 1207.6V1222M2106.8 1207.6V1222M2121.1 1207.6V1222M2135.3 1207.6V1222M2149.6 1207.6V1222M2163.8 1207.6V1222M2178.1 1207.6V1222"/>
</svg>
</body></html>
